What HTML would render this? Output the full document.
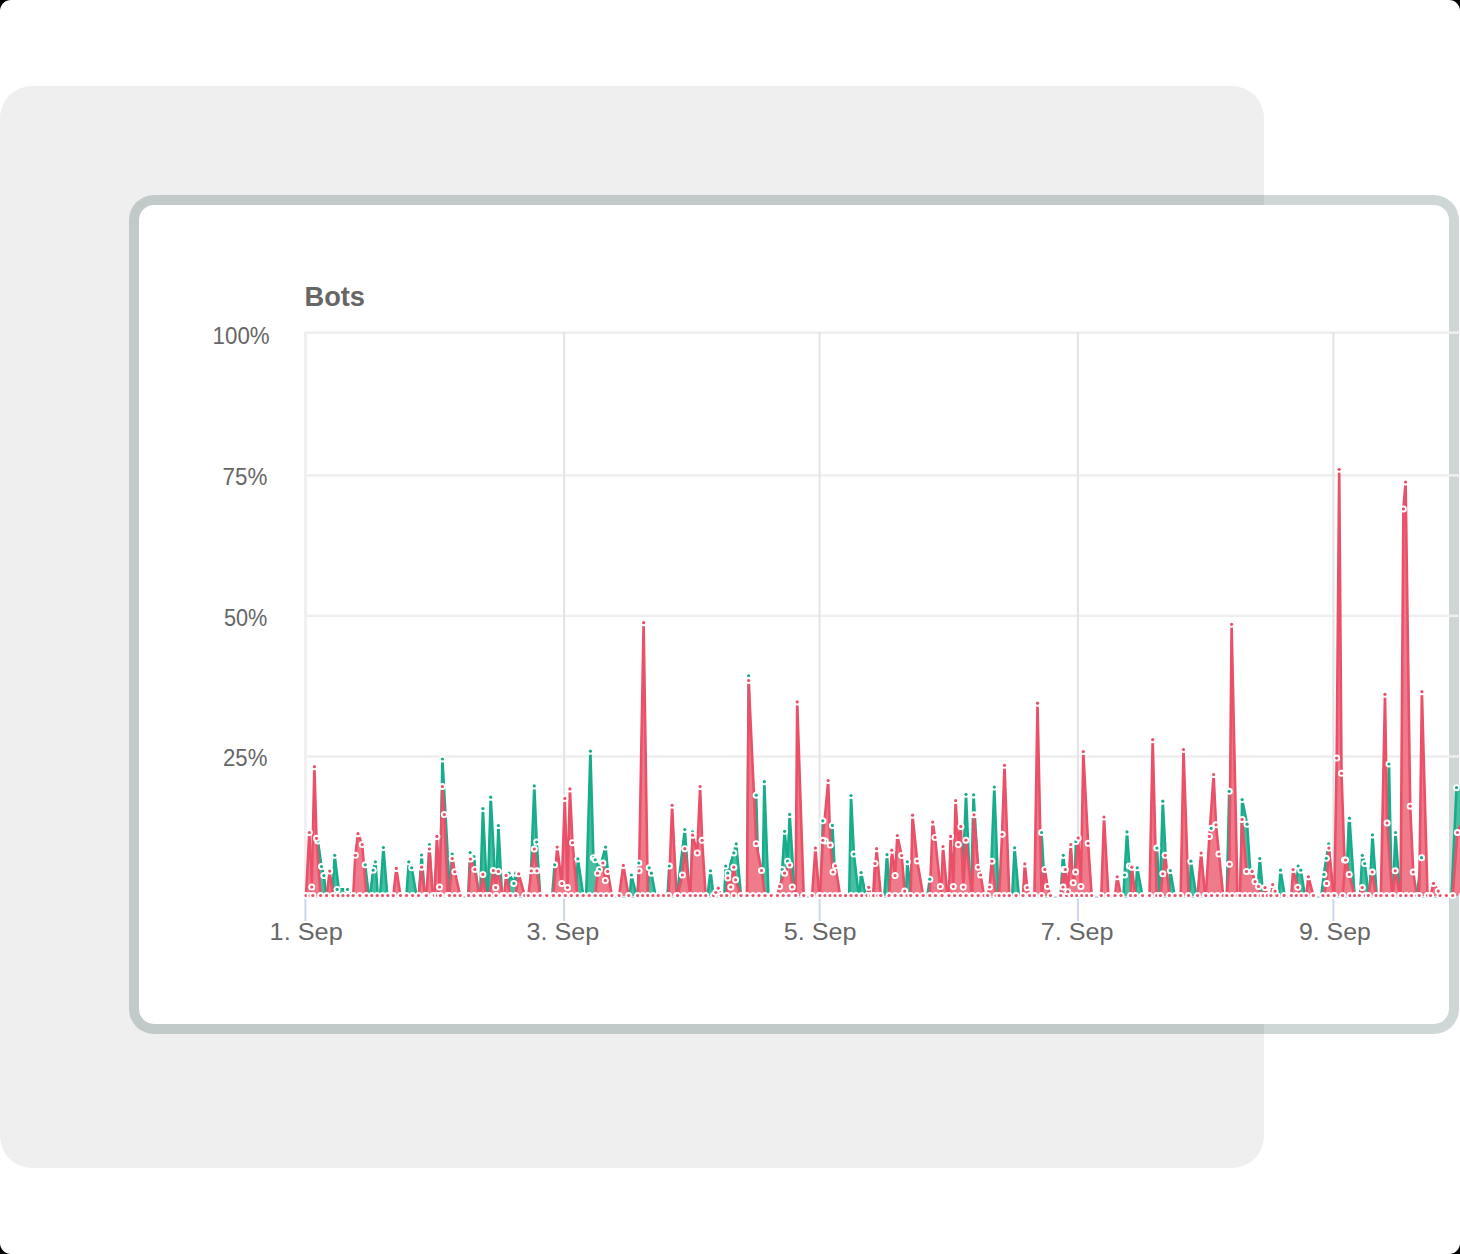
<!DOCTYPE html>
<html><head><meta charset="utf-8"><style>
html,body{margin:0;padding:0;background:#000;width:1460px;height:1254px;overflow:hidden}
.page{position:absolute;left:0;top:0;width:1460px;height:1254px;background:#fff;border-radius:11px;overflow:hidden}
.grey{position:absolute;left:0;top:86px;width:1263.5px;height:1081.5px;background:#efefef;border-radius:32px}
.card{position:absolute;left:129px;top:195px;width:1330px;height:839px;box-sizing:border-box;border:10px solid rgba(15,55,50,0.2);border-radius:25px;background:#fff;background-clip:padding-box}
.title{position:absolute;left:307px;top:281px;font:bold 27px "Liberation Sans",sans-serif;color:#666}
.yl{position:absolute;right:1191px;font:22.7px "Liberation Sans",sans-serif;color:#666;line-height:26px;white-space:nowrap}
.xl{position:absolute;top:917px;width:120px;text-align:center;font:25px "Liberation Sans",sans-serif;color:#666;line-height:28px;white-space:nowrap}
svg{position:absolute;left:0;top:0}
</style></head><body><div class="page">
<div class="grey"></div>
<div class="card"></div>

<svg width="1460" height="1254" viewBox="0 0 1460 1254"><g font-family="Liberation Sans, sans-serif" fill="#666"><text x="304.5" y="305.7" textLength="60.5" lengthAdjust="spacingAndGlyphs" font-size="27.5" font-weight="bold">Bots</text><text x="212.6" y="344.2" textLength="57.0" lengthAdjust="spacingAndGlyphs" font-size="23.5" font-weight="normal">100%</text><text x="222.6" y="484.8" textLength="44.8" lengthAdjust="spacingAndGlyphs" font-size="23.5" font-weight="normal">75%</text><text x="224.0" y="625.6" textLength="43.4" lengthAdjust="spacingAndGlyphs" font-size="23.5" font-weight="normal">50%</text><text x="223.0" y="766.0" textLength="44.4" lengthAdjust="spacingAndGlyphs" font-size="23.5" font-weight="normal">25%</text><text x="269.6" y="940.2" textLength="73.2" lengthAdjust="spacingAndGlyphs" font-size="24.5" font-weight="normal">1. Sep</text><text x="526.4" y="940.2" textLength="72.8" lengthAdjust="spacingAndGlyphs" font-size="24.5" font-weight="normal">3. Sep</text><text x="783.7" y="940.2" textLength="72.8" lengthAdjust="spacingAndGlyphs" font-size="24.5" font-weight="normal">5. Sep</text><text x="1040.7" y="940.2" textLength="72.8" lengthAdjust="spacingAndGlyphs" font-size="24.5" font-weight="normal">7. Sep</text><text x="1299.0" y="940.2" textLength="71.8" lengthAdjust="spacingAndGlyphs" font-size="24.5" font-weight="normal">9. Sep</text></g><rect x="305" y="331.35" width="1160" height="2.5" fill="#eeeeee"/><rect x="305" y="474.15" width="1160" height="2.5" fill="#eeeeee"/><rect x="305" y="614.65" width="1160" height="2.5" fill="#eeeeee"/><rect x="305" y="755.25" width="1160" height="2.5" fill="#eeeeee"/><rect x="303.9" y="332" width="3" height="560" fill="#f0f0f0"/><rect x="563.1" y="332" width="2" height="560" fill="#e3e3e3"/><rect x="818.6" y="332" width="2" height="560" fill="#e3e3e3"/><rect x="1076.9" y="332" width="2" height="560" fill="#e3e3e3"/><rect x="1332.4" y="332" width="2" height="560" fill="#e3e3e3"/><rect x="305" y="896" width="1160" height="2" fill="#ccd6eb"/><rect x="304.4" y="896" width="2" height="25" fill="#ccd6eb"/><rect x="563.1" y="896" width="2" height="25" fill="#ccd6eb"/><rect x="818.6" y="896" width="2" height="25" fill="#ccd6eb"/><rect x="1076.9" y="896" width="2" height="25" fill="#ccd6eb"/><rect x="1332.4" y="896" width="2" height="25" fill="#ccd6eb"/><path d="M316.7 895.9 L317.9 840.9 L321.5 866.6 L323.9 875.6 L326.1 895.9 L326.1 896.0 L316.7 896.0 Z" fill="#48bfa1"/><path d="M316.7 895.9 L317.9 840.9 L321.5 866.6 L323.9 875.6 L326.1 895.9" fill="none" stroke="#17ad8c" stroke-width="2.6" stroke-linejoin="round"/><path d="M332.3 895.9 L334.7 855.3 L339.5 895.9 L339.5 896.0 L332.3 896.0 Z" fill="#48bfa1"/><path d="M332.3 895.9 L334.7 855.3 L339.5 895.9" fill="none" stroke="#17ad8c" stroke-width="2.6" stroke-linejoin="round"/><path d="M335.9 895.9 L337.1 889.4 L347.5 889.4 L351.4 895.9 L351.4 896.0 L335.9 896.0 Z" fill="#48bfa1"/><path d="M335.9 895.9 L337.1 889.4 L347.5 889.4 L351.4 895.9" fill="none" stroke="#17ad8c" stroke-width="2.6" stroke-linejoin="round"/><path d="M363.4 895.9 L365.2 864.8 L368.8 895.9 L368.8 896.0 L363.4 896.0 Z" fill="#48bfa1"/><path d="M363.4 895.9 L365.2 864.8 L368.8 895.9" fill="none" stroke="#17ad8c" stroke-width="2.6" stroke-linejoin="round"/><path d="M370.0 895.9 L373.2 870.2 L375.4 861.8 L377.8 895.9 L377.8 896.0 L370.0 896.0 Z" fill="#48bfa1"/><path d="M370.0 895.9 L373.2 870.2 L375.4 861.8 L377.8 895.9" fill="none" stroke="#17ad8c" stroke-width="2.6" stroke-linejoin="round"/><path d="M380.1 895.9 L383.4 847.5 L387.3 895.9 L387.3 896.0 L380.1 896.0 Z" fill="#48bfa1"/><path d="M380.1 895.9 L383.4 847.5 L387.3 895.9" fill="none" stroke="#17ad8c" stroke-width="2.6" stroke-linejoin="round"/><path d="M406.4 895.9 L408.8 861.8 L411.7 867.8 L416.5 895.9 L416.5 896.0 L406.4 896.0 Z" fill="#48bfa1"/><path d="M406.4 895.9 L408.8 861.8 L411.7 867.8 L416.5 895.9" fill="none" stroke="#17ad8c" stroke-width="2.6" stroke-linejoin="round"/><path d="M418.9 895.9 L421.6 855.0 L424.9 895.9 L424.9 896.0 L418.9 896.0 Z" fill="#48bfa1"/><path d="M418.9 895.9 L421.6 855.0 L424.9 895.9" fill="none" stroke="#17ad8c" stroke-width="2.6" stroke-linejoin="round"/><path d="M427.3 895.9 L429.4 844.5 L432.1 895.9 L432.1 896.0 L427.3 896.0 Z" fill="#48bfa1"/><path d="M427.3 895.9 L429.4 844.5 L432.1 895.9" fill="none" stroke="#17ad8c" stroke-width="2.6" stroke-linejoin="round"/><path d="M439.9 895.9 L442.4 759.0 L450.0 895.9 L450.0 896.0 L439.9 896.0 Z" fill="#48bfa1"/><path d="M439.9 895.9 L442.4 759.0 L450.0 895.9" fill="none" stroke="#17ad8c" stroke-width="2.6" stroke-linejoin="round"/><path d="M449.4 895.9 L452.2 854.1 L457.2 895.9 L457.2 896.0 L449.4 896.0 Z" fill="#48bfa1"/><path d="M449.4 895.9 L452.2 854.1 L457.2 895.9" fill="none" stroke="#17ad8c" stroke-width="2.6" stroke-linejoin="round"/><path d="M468.2 895.9 L470.1 852.6 L473.9 856.5 L478.7 895.9 L478.7 896.0 L468.2 896.0 Z" fill="#48bfa1"/><path d="M468.2 895.9 L470.1 852.6 L473.9 856.5 L478.7 895.9" fill="none" stroke="#17ad8c" stroke-width="2.6" stroke-linejoin="round"/><path d="M480.2 895.9 L482.9 808.6 L487.1 895.9 L487.1 896.0 L480.2 896.0 Z" fill="#48bfa1"/><path d="M480.2 895.9 L482.9 808.6 L487.1 895.9" fill="none" stroke="#17ad8c" stroke-width="2.6" stroke-linejoin="round"/><path d="M487.7 895.9 L490.7 797.2 L496.1 895.9 L496.1 896.0 L487.7 896.0 Z" fill="#48bfa1"/><path d="M487.7 895.9 L490.7 797.2 L496.1 895.9" fill="none" stroke="#17ad8c" stroke-width="2.6" stroke-linejoin="round"/><path d="M496.0 895.9 L498.4 825.6 L502.0 895.9 L502.0 896.0 L496.0 896.0 Z" fill="#48bfa1"/><path d="M496.0 895.9 L498.4 825.6 L502.0 895.9" fill="none" stroke="#17ad8c" stroke-width="2.6" stroke-linejoin="round"/><path d="M507.9 895.9 L509.1 873.2 L513.9 883.4 L515.7 873.2 L518.1 895.9 L518.1 896.0 L507.9 896.0 Z" fill="#48bfa1"/><path d="M507.9 895.9 L509.1 873.2 L513.9 883.4 L515.7 873.2 L518.1 895.9" fill="none" stroke="#17ad8c" stroke-width="2.6" stroke-linejoin="round"/><path d="M530.1 895.9 L534.3 785.9 L536.7 842.1 L540.2 895.9 L540.2 896.0 L530.1 896.0 Z" fill="#48bfa1"/><path d="M530.1 895.9 L534.3 785.9 L536.7 842.1 L540.2 895.9" fill="none" stroke="#17ad8c" stroke-width="2.6" stroke-linejoin="round"/><path d="M552.2 895.9 L554.6 864.8 L557.0 895.9 L557.0 896.0 L552.2 896.0 Z" fill="#48bfa1"/><path d="M552.2 895.9 L554.6 864.8 L557.0 895.9" fill="none" stroke="#17ad8c" stroke-width="2.6" stroke-linejoin="round"/><path d="M575.5 895.9 L577.9 858.9 L583.3 895.9 L583.3 896.0 L575.5 896.0 Z" fill="#48bfa1"/><path d="M575.5 895.9 L577.9 858.9 L583.3 895.9" fill="none" stroke="#17ad8c" stroke-width="2.6" stroke-linejoin="round"/><path d="M586.2 895.9 L590.4 751.2 L593.4 857.7 L595.2 859.8 L599.4 869.6 L605.6 847.1 L610.1 895.9 L610.1 896.0 L586.2 896.0 Z" fill="#48bfa1"/><path d="M586.2 895.9 L590.4 751.2 L593.4 857.7 L595.2 859.8 L599.4 869.6 L605.6 847.1 L610.1 895.9" fill="none" stroke="#17ad8c" stroke-width="2.6" stroke-linejoin="round"/><path d="M629.9 895.9 L631.4 875.0 L636.4 895.9 L636.4 896.0 L629.9 896.0 Z" fill="#48bfa1"/><path d="M629.9 895.9 L631.4 875.0 L636.4 895.9" fill="none" stroke="#17ad8c" stroke-width="2.6" stroke-linejoin="round"/><path d="M637.6 895.9 L638.8 863.0 L642.4 895.9 L642.4 896.0 L637.6 896.0 Z" fill="#48bfa1"/><path d="M637.6 895.9 L638.8 863.0 L642.4 895.9" fill="none" stroke="#17ad8c" stroke-width="2.6" stroke-linejoin="round"/><path d="M647.2 895.9 L649.2 867.8 L651.4 873.2 L655.6 895.9 L655.6 896.0 L647.2 896.0 Z" fill="#48bfa1"/><path d="M647.2 895.9 L649.2 867.8 L651.4 873.2 L655.6 895.9" fill="none" stroke="#17ad8c" stroke-width="2.6" stroke-linejoin="round"/><path d="M667.5 895.9 L669.3 866.0 L672.3 895.9 L672.3 896.0 L667.5 896.0 Z" fill="#48bfa1"/><path d="M667.5 895.9 L669.3 866.0 L672.3 895.9" fill="none" stroke="#17ad8c" stroke-width="2.6" stroke-linejoin="round"/><path d="M677.0 895.9 L684.8 829.5 L689.6 895.9 L689.6 896.0 L677.0 896.0 Z" fill="#48bfa1"/><path d="M677.0 895.9 L684.8 829.5 L689.6 895.9" fill="none" stroke="#17ad8c" stroke-width="2.6" stroke-linejoin="round"/><path d="M690.8 895.9 L692.6 831.9 L695.6 895.9 L695.6 896.0 L690.8 896.0 Z" fill="#48bfa1"/><path d="M690.8 895.9 L692.6 831.9 L695.6 895.9" fill="none" stroke="#17ad8c" stroke-width="2.6" stroke-linejoin="round"/><path d="M707.5 895.9 L710.5 870.8 L713.5 895.9 L713.5 896.0 L707.5 896.0 Z" fill="#48bfa1"/><path d="M707.5 895.9 L710.5 870.8 L713.5 895.9" fill="none" stroke="#17ad8c" stroke-width="2.6" stroke-linejoin="round"/><path d="M724.3 895.9 L725.7 866.0 L727.8 873.2 L733.8 852.9 L736.2 843.9 L741.0 895.9 L741.0 896.0 L724.3 896.0 Z" fill="#48bfa1"/><path d="M724.3 895.9 L725.7 866.0 L727.8 873.2 L733.8 852.9 L736.2 843.9 L741.0 895.9" fill="none" stroke="#17ad8c" stroke-width="2.6" stroke-linejoin="round"/><path d="M747.2 895.9 L748.7 675.8 L750.6 895.9 L750.6 896.0 L747.2 896.0 Z" fill="#48bfa1"/><path d="M747.2 895.9 L748.7 675.8 L750.6 895.9" fill="none" stroke="#17ad8c" stroke-width="2.6" stroke-linejoin="round"/><path d="M754.2 895.9 L756.2 795.2 L758.9 895.9 L758.9 896.0 L754.2 896.0 Z" fill="#48bfa1"/><path d="M754.2 895.9 L756.2 795.2 L758.9 895.9" fill="none" stroke="#17ad8c" stroke-width="2.6" stroke-linejoin="round"/><path d="M762.5 895.9 L764.3 781.7 L768.5 895.9 L768.5 896.0 L762.5 896.0 Z" fill="#48bfa1"/><path d="M762.5 895.9 L764.3 781.7 L768.5 895.9" fill="none" stroke="#17ad8c" stroke-width="2.6" stroke-linejoin="round"/><path d="M779.8 895.9 L782.2 869.6 L784.6 831.3 L787.6 861.2 L789.7 814.4 L794.7 895.9 L794.7 896.0 L779.8 896.0 Z" fill="#48bfa1"/><path d="M779.8 895.9 L782.2 869.6 L784.6 831.3 L787.6 861.2 L789.7 814.4 L794.7 895.9" fill="none" stroke="#17ad8c" stroke-width="2.6" stroke-linejoin="round"/><path d="M821.1 895.9 L822.8 820.8 L825.2 840.9 L827.6 895.9 L827.6 896.0 L821.1 896.0 Z" fill="#48bfa1"/><path d="M821.1 895.9 L822.8 820.8 L825.2 840.9 L827.6 895.9" fill="none" stroke="#17ad8c" stroke-width="2.6" stroke-linejoin="round"/><path d="M830.0 895.9 L832.4 825.4 L836.0 895.9 L836.0 896.0 L830.0 896.0 Z" fill="#48bfa1"/><path d="M830.0 895.9 L832.4 825.4 L836.0 895.9" fill="none" stroke="#17ad8c" stroke-width="2.6" stroke-linejoin="round"/><path d="M849.2 895.9 L851.0 795.5 L853.9 854.1 L858.7 895.9 L858.7 896.0 L849.2 896.0 Z" fill="#48bfa1"/><path d="M849.2 895.9 L851.0 795.5 L853.9 854.1 L858.7 895.9" fill="none" stroke="#17ad8c" stroke-width="2.6" stroke-linejoin="round"/><path d="M859.3 895.9 L861.1 872.6 L865.9 895.9 L865.9 896.0 L859.3 896.0 Z" fill="#48bfa1"/><path d="M859.3 895.9 L861.1 872.6 L865.9 895.9" fill="none" stroke="#17ad8c" stroke-width="2.6" stroke-linejoin="round"/><path d="M884.4 895.9 L887.0 854.7 L889.7 895.9 L889.7 896.0 L884.4 896.0 Z" fill="#48bfa1"/><path d="M884.4 895.9 L887.0 854.7 L889.7 895.9" fill="none" stroke="#17ad8c" stroke-width="2.6" stroke-linejoin="round"/><path d="M905.9 895.9 L907.3 861.8 L911.3 895.9 L911.3 896.0 L905.9 896.0 Z" fill="#48bfa1"/><path d="M905.9 895.9 L907.3 861.8 L911.3 895.9" fill="none" stroke="#17ad8c" stroke-width="2.6" stroke-linejoin="round"/><path d="M927.4 895.9 L929.8 879.2 L931.0 895.9 L931.0 896.0 L927.4 896.0 Z" fill="#48bfa1"/><path d="M927.4 895.9 L929.8 879.2 L931.0 895.9" fill="none" stroke="#17ad8c" stroke-width="2.6" stroke-linejoin="round"/><path d="M962.0 895.9 L966.0 794.3 L970.4 895.9 L970.4 896.0 L962.0 896.0 Z" fill="#48bfa1"/><path d="M962.0 895.9 L966.0 794.3 L970.4 895.9" fill="none" stroke="#17ad8c" stroke-width="2.6" stroke-linejoin="round"/><path d="M971.0 895.9 L973.6 794.9 L979.4 895.9 L979.4 896.0 L971.0 896.0 Z" fill="#48bfa1"/><path d="M971.0 895.9 L973.6 794.9 L979.4 895.9" fill="none" stroke="#17ad8c" stroke-width="2.6" stroke-linejoin="round"/><path d="M990.1 895.9 L994.3 787.1 L998.5 895.9 L998.5 896.0 L990.1 896.0 Z" fill="#48bfa1"/><path d="M990.1 895.9 L994.3 787.1 L998.5 895.9" fill="none" stroke="#17ad8c" stroke-width="2.6" stroke-linejoin="round"/><path d="M1012.2 895.9 L1014.6 847.8 L1018.8 895.9 L1018.8 896.0 L1012.2 896.0 Z" fill="#48bfa1"/><path d="M1012.2 895.9 L1014.6 847.8 L1018.8 895.9" fill="none" stroke="#17ad8c" stroke-width="2.6" stroke-linejoin="round"/><path d="M1036.8 895.9 L1041.6 832.5 L1045.1 895.9 L1045.1 896.0 L1036.8 896.0 Z" fill="#48bfa1"/><path d="M1036.8 895.9 L1041.6 832.5 L1045.1 895.9" fill="none" stroke="#17ad8c" stroke-width="2.6" stroke-linejoin="round"/><path d="M1060.7 895.9 L1063.1 855.3 L1066.7 895.9 L1066.7 896.0 L1060.7 896.0 Z" fill="#48bfa1"/><path d="M1060.7 895.9 L1063.1 855.3 L1066.7 895.9" fill="none" stroke="#17ad8c" stroke-width="2.6" stroke-linejoin="round"/><path d="M1061.2 895.9 L1063.3 855.3 L1067.2 895.9 L1067.2 896.0 L1061.2 896.0 Z" fill="#48bfa1"/><path d="M1061.2 895.9 L1063.3 855.3 L1067.2 895.9" fill="none" stroke="#17ad8c" stroke-width="2.6" stroke-linejoin="round"/><path d="M1074.4 895.9 L1075.9 841.5 L1079.1 895.9 L1079.1 896.0 L1074.4 896.0 Z" fill="#48bfa1"/><path d="M1074.4 895.9 L1075.9 841.5 L1079.1 895.9" fill="none" stroke="#17ad8c" stroke-width="2.6" stroke-linejoin="round"/><path d="M1123.4 895.9 L1124.6 875.0 L1127.0 831.9 L1129.4 866.0 L1131.8 895.9 L1131.8 896.0 L1123.4 896.0 Z" fill="#48bfa1"/><path d="M1123.4 895.9 L1124.6 875.0 L1127.0 831.9 L1129.4 866.0 L1131.8 895.9" fill="none" stroke="#17ad8c" stroke-width="2.6" stroke-linejoin="round"/><path d="M1135.4 895.9 L1137.2 867.8 L1142.5 895.9 L1142.5 896.0 L1135.4 896.0 Z" fill="#48bfa1"/><path d="M1135.4 895.9 L1137.2 867.8 L1142.5 895.9" fill="none" stroke="#17ad8c" stroke-width="2.6" stroke-linejoin="round"/><path d="M1154.5 895.9 L1156.9 848.1 L1160.0 895.9 L1160.0 896.0 L1154.5 896.0 Z" fill="#48bfa1"/><path d="M1154.5 895.9 L1156.9 848.1 L1160.0 895.9" fill="none" stroke="#17ad8c" stroke-width="2.6" stroke-linejoin="round"/><path d="M1159.8 895.9 L1162.8 801.2 L1167.6 895.9 L1167.6 896.0 L1159.8 896.0 Z" fill="#48bfa1"/><path d="M1159.8 895.9 L1162.8 801.2 L1167.6 895.9" fill="none" stroke="#17ad8c" stroke-width="2.6" stroke-linejoin="round"/><path d="M1168.8 895.9 L1170.3 870.6 L1174.7 895.9 L1174.7 896.0 L1168.8 896.0 Z" fill="#48bfa1"/><path d="M1168.8 895.9 L1170.3 870.6 L1174.7 895.9" fill="none" stroke="#17ad8c" stroke-width="2.6" stroke-linejoin="round"/><path d="M1189.7 895.9 L1190.9 861.2 L1196.3 895.9 L1196.3 896.0 L1189.7 896.0 Z" fill="#48bfa1"/><path d="M1189.7 895.9 L1190.9 861.2 L1196.3 895.9" fill="none" stroke="#17ad8c" stroke-width="2.6" stroke-linejoin="round"/><path d="M1208.8 895.9 L1211.2 828.3 L1214.8 895.9 L1214.8 896.0 L1208.8 896.0 Z" fill="#48bfa1"/><path d="M1208.8 895.9 L1211.2 828.3 L1214.8 895.9" fill="none" stroke="#17ad8c" stroke-width="2.6" stroke-linejoin="round"/><path d="M1226.8 895.9 L1229.2 791.3 L1232.8 895.9 L1232.8 896.0 L1226.8 896.0 Z" fill="#48bfa1"/><path d="M1226.8 895.9 L1229.2 791.3 L1232.8 895.9" fill="none" stroke="#17ad8c" stroke-width="2.6" stroke-linejoin="round"/><path d="M1240.5 895.9 L1242.1 799.6 L1247.1 824.2 L1251.9 895.9 L1251.9 896.0 L1240.5 896.0 Z" fill="#48bfa1"/><path d="M1240.5 895.9 L1242.1 799.6 L1247.1 824.2 L1251.9 895.9" fill="none" stroke="#17ad8c" stroke-width="2.6" stroke-linejoin="round"/><path d="M1257.2 895.9 L1259.8 858.6 L1263.2 895.9 L1263.2 896.0 L1257.2 896.0 Z" fill="#48bfa1"/><path d="M1257.2 895.9 L1259.8 858.6 L1263.2 895.9" fill="none" stroke="#17ad8c" stroke-width="2.6" stroke-linejoin="round"/><path d="M1278.7 895.9 L1280.5 870.2 L1284.7 895.9 L1284.7 896.0 L1278.7 896.0 Z" fill="#48bfa1"/><path d="M1278.7 895.9 L1280.5 870.2 L1284.7 895.9" fill="none" stroke="#17ad8c" stroke-width="2.6" stroke-linejoin="round"/><path d="M1295.5 895.9 L1298.1 866.0 L1300.8 870.2 L1305.0 895.9 L1305.0 896.0 L1295.5 896.0 Z" fill="#48bfa1"/><path d="M1295.5 895.9 L1298.1 866.0 L1300.8 870.2 L1305.0 895.9" fill="none" stroke="#17ad8c" stroke-width="2.6" stroke-linejoin="round"/><path d="M1321.2 895.9 L1323.9 874.4 L1326.3 858.3 L1328.7 843.9 L1332.5 895.9 L1332.5 896.0 L1321.2 896.0 Z" fill="#48bfa1"/><path d="M1321.2 895.9 L1323.9 874.4 L1326.3 858.3 L1328.7 843.9 L1332.5 895.9" fill="none" stroke="#17ad8c" stroke-width="2.6" stroke-linejoin="round"/><path d="M1345.7 895.9 L1349.0 818.2 L1351.7 895.9 L1351.7 896.0 L1345.7 896.0 Z" fill="#48bfa1"/><path d="M1345.7 895.9 L1349.0 818.2 L1351.7 895.9" fill="none" stroke="#17ad8c" stroke-width="2.6" stroke-linejoin="round"/><path d="M1346.8 895.9 L1349.5 818.2 L1354.6 895.9 L1354.6 896.0 L1346.8 896.0 Z" fill="#48bfa1"/><path d="M1346.8 895.9 L1349.5 818.2 L1354.6 895.9" fill="none" stroke="#17ad8c" stroke-width="2.6" stroke-linejoin="round"/><path d="M1360.0 895.9 L1362.3 855.3 L1364.7 863.6 L1368.9 895.9 L1368.9 896.0 L1360.0 896.0 Z" fill="#48bfa1"/><path d="M1360.0 895.9 L1362.3 855.3 L1364.7 863.6 L1368.9 895.9" fill="none" stroke="#17ad8c" stroke-width="2.6" stroke-linejoin="round"/><path d="M1369.5 895.9 L1372.5 834.9 L1376.7 895.9 L1376.7 896.0 L1369.5 896.0 Z" fill="#48bfa1"/><path d="M1369.5 895.9 L1372.5 834.9 L1376.7 895.9" fill="none" stroke="#17ad8c" stroke-width="2.6" stroke-linejoin="round"/><path d="M1386.3 895.9 L1389.0 764.0 L1391.7 895.9 L1391.7 896.0 L1386.3 896.0 Z" fill="#48bfa1"/><path d="M1386.3 895.9 L1389.0 764.0 L1391.7 895.9" fill="none" stroke="#17ad8c" stroke-width="2.6" stroke-linejoin="round"/><path d="M1392.8 895.9 L1395.5 832.5 L1400.0 895.9 L1400.0 896.0 L1392.8 896.0 Z" fill="#48bfa1"/><path d="M1392.8 895.9 L1395.5 832.5 L1400.0 895.9" fill="none" stroke="#17ad8c" stroke-width="2.6" stroke-linejoin="round"/><path d="M1416.8 895.9 L1421.6 857.7 L1426.3 895.9 L1426.3 896.0 L1416.8 896.0 Z" fill="#48bfa1"/><path d="M1416.8 895.9 L1421.6 857.7 L1426.3 895.9" fill="none" stroke="#17ad8c" stroke-width="2.6" stroke-linejoin="round"/><path d="M1451.5 895.9 L1456.5 787.7 L1462.2 789.5 L1462.2 896.0 L1451.5 896.0 Z" fill="#48bfa1"/><path d="M1451.5 895.9 L1456.5 787.7 L1462.2 789.5" fill="none" stroke="#17ad8c" stroke-width="2.6" stroke-linejoin="round"/><path d="M306.0 895.9 L309.3 832.5 L312.9 895.9 L312.9 896.0 L306.0 896.0 Z" fill="#ef7a8a"/><path d="M306.0 895.9 L309.3 832.5 L312.9 895.9" fill="none" stroke="#ea5068" stroke-width="2.6" stroke-linejoin="round"/><path d="M310.2 895.9 L311.7 887.0 L314.4 766.7 L316.5 838.3 L320.6 895.9 L320.6 896.0 L310.2 896.0 Z" fill="#ef7a8a"/><path d="M310.2 895.9 L311.7 887.0 L314.4 766.7 L316.5 838.3 L320.6 895.9" fill="none" stroke="#ea5068" stroke-width="2.6" stroke-linejoin="round"/><path d="M326.6 895.9 L329.7 871.1 L332.9 895.9 L332.9 896.0 L326.6 896.0 Z" fill="#ef7a8a"/><path d="M326.6 895.9 L329.7 871.1 L332.9 895.9" fill="none" stroke="#ea5068" stroke-width="2.6" stroke-linejoin="round"/><path d="M353.2 895.9 L355.3 855.3 L358.0 833.7 L362.2 844.5 L366.4 895.9 L366.4 896.0 L353.2 896.0 Z" fill="#ef7a8a"/><path d="M353.2 895.9 L355.3 855.3 L358.0 833.7 L362.2 844.5 L366.4 895.9" fill="none" stroke="#ea5068" stroke-width="2.6" stroke-linejoin="round"/><path d="M393.3 895.9 L396.3 868.4 L400.5 895.9 L400.5 896.0 L393.3 896.0 Z" fill="#ef7a8a"/><path d="M393.3 895.9 L396.3 868.4 L400.5 895.9" fill="none" stroke="#ea5068" stroke-width="2.6" stroke-linejoin="round"/><path d="M418.6 895.9 L421.6 867.2 L424.9 895.9 L424.9 896.0 L418.6 896.0 Z" fill="#ef7a8a"/><path d="M418.6 895.9 L421.6 867.2 L424.9 895.9" fill="none" stroke="#ea5068" stroke-width="2.6" stroke-linejoin="round"/><path d="M426.3 895.9 L429.4 849.0 L433.0 895.9 L433.0 896.0 L426.3 896.0 Z" fill="#ef7a8a"/><path d="M426.3 895.9 L429.4 849.0 L433.0 895.9" fill="none" stroke="#ea5068" stroke-width="2.6" stroke-linejoin="round"/><path d="M434.5 895.9 L436.9 836.4 L440.5 895.9 L440.5 896.0 L434.5 896.0 Z" fill="#ef7a8a"/><path d="M434.5 895.9 L436.9 836.4 L440.5 895.9" fill="none" stroke="#ea5068" stroke-width="2.6" stroke-linejoin="round"/><path d="M437.5 895.9 L439.5 887.0 L442.4 786.5 L444.3 814.6 L447.6 895.9 L447.6 896.0 L437.5 896.0 Z" fill="#ef7a8a"/><path d="M437.5 895.9 L439.5 887.0 L442.4 786.5 L444.3 814.6 L447.6 895.9" fill="none" stroke="#ea5068" stroke-width="2.6" stroke-linejoin="round"/><path d="M449.4 895.9 L452.2 858.6 L454.8 871.8 L460.2 895.9 L460.2 896.0 L449.4 896.0 Z" fill="#ef7a8a"/><path d="M449.4 895.9 L452.2 858.6 L454.8 871.8 L460.2 895.9" fill="none" stroke="#ea5068" stroke-width="2.6" stroke-linejoin="round"/><path d="M468.6 895.9 L470.4 859.1 L474.9 869.4 L479.3 895.9 L479.3 896.0 L468.6 896.0 Z" fill="#ef7a8a"/><path d="M468.6 895.9 L470.4 859.1 L474.9 869.4 L479.3 895.9" fill="none" stroke="#ea5068" stroke-width="2.6" stroke-linejoin="round"/><path d="M480.5 895.9 L482.9 874.4 L485.9 895.9 L485.9 896.0 L480.5 896.0 Z" fill="#ef7a8a"/><path d="M480.5 895.9 L482.9 874.4 L485.9 895.9" fill="none" stroke="#ea5068" stroke-width="2.6" stroke-linejoin="round"/><path d="M489.4 895.9 L493.3 870.6 L495.7 887.6 L498.4 871.4 L502.6 895.9 L502.6 896.0 L489.4 896.0 Z" fill="#ef7a8a"/><path d="M489.4 895.9 L493.3 870.6 L495.7 887.6 L498.4 871.4 L502.6 895.9" fill="none" stroke="#ea5068" stroke-width="2.6" stroke-linejoin="round"/><path d="M504.1 895.9 L506.1 875.4 L510.3 895.9 L510.3 896.0 L504.1 896.0 Z" fill="#ef7a8a"/><path d="M504.1 895.9 L506.1 875.4 L510.3 895.9" fill="none" stroke="#ea5068" stroke-width="2.6" stroke-linejoin="round"/><path d="M515.7 895.9 L518.7 873.8 L524.7 895.9 L524.7 896.0 L515.7 896.0 Z" fill="#ef7a8a"/><path d="M515.7 895.9 L518.7 873.8 L524.7 895.9" fill="none" stroke="#ea5068" stroke-width="2.6" stroke-linejoin="round"/><path d="M528.3 895.9 L531.3 870.8 L534.3 849.0 L536.9 870.8 L540.2 895.9 L540.2 896.0 L528.3 896.0 Z" fill="#ef7a8a"/><path d="M528.3 895.9 L531.3 870.8 L534.3 849.0 L536.9 870.8 L540.2 895.9" fill="none" stroke="#ea5068" stroke-width="2.6" stroke-linejoin="round"/><path d="M553.4 895.9 L557.2 847.1 L561.8 883.4 L564.8 798.4 L567.5 887.6 L569.9 788.9 L572.5 842.7 L577.3 895.9 L577.3 896.0 L553.4 896.0 Z" fill="#ef7a8a"/><path d="M553.4 895.9 L557.2 847.1 L561.8 883.4 L564.8 798.4 L567.5 887.6 L569.9 788.9 L572.5 842.7 L577.3 895.9" fill="none" stroke="#ea5068" stroke-width="2.6" stroke-linejoin="round"/><path d="M595.2 895.9 L597.6 873.2 L602.9 863.0 L605.3 880.4 L607.7 871.4 L611.9 895.9 L611.9 896.0 L595.2 896.0 Z" fill="#ef7a8a"/><path d="M595.2 895.9 L597.6 873.2 L602.9 863.0 L605.3 880.4 L607.7 871.4 L611.9 895.9" fill="none" stroke="#ea5068" stroke-width="2.6" stroke-linejoin="round"/><path d="M619.1 895.9 L623.3 865.4 L628.7 895.9 L628.7 896.0 L619.1 896.0 Z" fill="#ef7a8a"/><path d="M619.1 895.9 L623.3 865.4 L628.7 895.9" fill="none" stroke="#ea5068" stroke-width="2.6" stroke-linejoin="round"/><path d="M637.6 895.9 L639.1 870.8 L643.6 622.7 L647.8 895.9 L647.8 896.0 L637.6 896.0 Z" fill="#ef7a8a"/><path d="M637.6 895.9 L639.1 870.8 L643.6 622.7 L647.8 895.9" fill="none" stroke="#ea5068" stroke-width="2.6" stroke-linejoin="round"/><path d="M668.7 895.9 L672.1 805.3 L676.5 895.9 L676.5 896.0 L668.7 896.0 Z" fill="#ef7a8a"/><path d="M668.7 895.9 L672.1 805.3 L676.5 895.9" fill="none" stroke="#ea5068" stroke-width="2.6" stroke-linejoin="round"/><path d="M677.6 895.9 L682.4 875.0 L684.8 848.7 L690.2 895.9 L690.2 896.0 L677.6 896.0 Z" fill="#ef7a8a"/><path d="M677.6 895.9 L682.4 875.0 L684.8 848.7 L690.2 895.9" fill="none" stroke="#ea5068" stroke-width="2.6" stroke-linejoin="round"/><path d="M690.2 895.9 L692.6 835.2 L697.3 852.9 L700.1 786.5 L702.1 840.3 L705.7 895.9 L705.7 896.0 L690.2 896.0 Z" fill="#ef7a8a"/><path d="M690.2 895.9 L692.6 835.2 L697.3 852.9 L700.1 786.5 L702.1 840.3 L705.7 895.9" fill="none" stroke="#ea5068" stroke-width="2.6" stroke-linejoin="round"/><path d="M713.5 895.9 L715.9 892.3 L718.3 888.2 L721.3 895.9 L721.3 896.0 L713.5 896.0 Z" fill="#ef7a8a"/><path d="M713.5 895.9 L715.9 892.3 L718.3 888.2 L721.3 895.9" fill="none" stroke="#ea5068" stroke-width="2.6" stroke-linejoin="round"/><path d="M726.7 895.9 L727.8 878.0 L730.8 887.0 L733.8 867.2 L735.6 879.8 L741.0 895.9 L741.0 896.0 L726.7 896.0 Z" fill="#ef7a8a"/><path d="M726.7 895.9 L727.8 878.0 L730.8 887.0 L733.8 867.2 L735.6 879.8 L741.0 895.9" fill="none" stroke="#ea5068" stroke-width="2.6" stroke-linejoin="round"/><path d="M747.0 895.9 L748.7 680.5 L756.2 843.7 L761.5 870.5 L765.0 895.9 L765.0 896.0 L747.0 896.0 Z" fill="#ef7a8a"/><path d="M747.0 895.9 L748.7 680.5 L756.2 843.7 L761.5 870.5 L765.0 895.9" fill="none" stroke="#ea5068" stroke-width="2.6" stroke-linejoin="round"/><path d="M777.4 895.9 L779.5 886.4 L784.6 873.2 L789.7 865.1 L792.3 887.0 L794.7 895.9 L794.7 896.0 L777.4 896.0 Z" fill="#ef7a8a"/><path d="M777.4 895.9 L779.5 886.4 L784.6 873.2 L789.7 865.1 L792.3 887.0 L794.7 895.9" fill="none" stroke="#ea5068" stroke-width="2.6" stroke-linejoin="round"/><path d="M795.6 895.9 L797.2 701.9 L803.7 895.9 L803.7 896.0 L795.6 896.0 Z" fill="#ef7a8a"/><path d="M795.6 895.9 L797.2 701.9 L803.7 895.9" fill="none" stroke="#ea5068" stroke-width="2.6" stroke-linejoin="round"/><path d="M812.1 895.9 L815.4 848.1 L819.3 895.9 L819.3 896.0 L812.1 896.0 Z" fill="#ef7a8a"/><path d="M812.1 895.9 L815.4 848.1 L819.3 895.9" fill="none" stroke="#ea5068" stroke-width="2.6" stroke-linejoin="round"/><path d="M819.9 895.9 L822.8 840.3 L828.2 780.5 L830.3 845.1 L833.0 872.0 L835.4 865.8 L840.2 895.9 L840.2 896.0 L819.9 896.0 Z" fill="#ef7a8a"/><path d="M819.9 895.9 L822.8 840.3 L828.2 780.5 L830.3 845.1 L833.0 872.0 L835.4 865.8 L840.2 895.9" fill="none" stroke="#ea5068" stroke-width="2.6" stroke-linejoin="round"/><path d="M867.1 895.9 L868.7 887.3 L870.7 895.9 L870.7 896.0 L867.1 896.0 Z" fill="#ef7a8a"/><path d="M867.1 895.9 L868.7 887.3 L870.7 895.9" fill="none" stroke="#ea5068" stroke-width="2.6" stroke-linejoin="round"/><path d="M873.1 895.9 L875.0 863.6 L877.9 895.9 L877.9 896.0 L873.1 896.0 Z" fill="#ef7a8a"/><path d="M873.1 895.9 L875.0 863.6 L877.9 895.9" fill="none" stroke="#ea5068" stroke-width="2.6" stroke-linejoin="round"/><path d="M873.6 895.9 L876.6 848.7 L880.8 895.9 L880.8 896.0 L873.6 896.0 Z" fill="#ef7a8a"/><path d="M873.6 895.9 L876.6 848.7 L880.8 895.9" fill="none" stroke="#ea5068" stroke-width="2.6" stroke-linejoin="round"/><path d="M889.1 895.9 L891.8 850.2 L895.1 875.6 L897.3 835.5 L901.7 855.5 L904.7 891.1 L907.1 895.9 L907.1 896.0 L889.1 896.0 Z" fill="#ef7a8a"/><path d="M889.1 895.9 L891.8 850.2 L895.1 875.6 L897.3 835.5 L901.7 855.5 L904.7 891.1 L907.1 895.9" fill="none" stroke="#ea5068" stroke-width="2.6" stroke-linejoin="round"/><path d="M910.7 895.9 L912.5 815.2 L917.2 861.0 L923.2 895.9 L923.2 896.0 L910.7 896.0 Z" fill="#ef7a8a"/><path d="M910.7 895.9 L912.5 815.2 L917.2 861.0 L923.2 895.9" fill="none" stroke="#ea5068" stroke-width="2.6" stroke-linejoin="round"/><path d="M929.8 895.9 L932.7 822.1 L935.0 837.4 L940.3 886.6 L942.0 895.9 L942.0 896.0 L929.8 896.0 Z" fill="#ef7a8a"/><path d="M929.8 895.9 L932.7 822.1 L935.0 837.4 L940.3 886.6 L942.0 895.9" fill="none" stroke="#ea5068" stroke-width="2.6" stroke-linejoin="round"/><path d="M941.1 895.9 L943.0 846.5 L947.5 895.9 L947.5 896.0 L941.1 896.0 Z" fill="#ef7a8a"/><path d="M941.1 895.9 L943.0 846.5 L947.5 895.9" fill="none" stroke="#ea5068" stroke-width="2.6" stroke-linejoin="round"/><path d="M948.9 895.9 L950.6 836.4 L953.3 886.6 L955.6 800.6 L958.3 844.6 L960.9 826.4 L963.3 887.1 L965.9 840.2 L971.9 895.9 L971.9 896.0 L948.9 896.0 Z" fill="#ef7a8a"/><path d="M948.9 895.9 L950.6 836.4 L953.3 886.6 L955.6 800.6 L958.3 844.6 L960.9 826.4 L963.3 887.1 L965.9 840.2 L971.9 895.9" fill="none" stroke="#ea5068" stroke-width="2.6" stroke-linejoin="round"/><path d="M972.2 895.9 L974.0 814.8 L978.2 867.2 L980.6 875.0 L984.1 895.9 L984.1 896.0 L972.2 896.0 Z" fill="#ef7a8a"/><path d="M972.2 895.9 L974.0 814.8 L978.2 867.2 L980.6 875.0 L984.1 895.9" fill="none" stroke="#ea5068" stroke-width="2.6" stroke-linejoin="round"/><path d="M987.7 895.9 L989.5 887.0 L991.9 861.2 L996.1 895.9 L996.1 896.0 L987.7 896.0 Z" fill="#ef7a8a"/><path d="M987.7 895.9 L989.5 887.0 L991.9 861.2 L996.1 895.9" fill="none" stroke="#ea5068" stroke-width="2.6" stroke-linejoin="round"/><path d="M999.1 895.9 L1002.1 834.3 L1004.5 765.3 L1009.3 895.9 L1009.3 896.0 L999.1 896.0 Z" fill="#ef7a8a"/><path d="M999.1 895.9 L1002.1 834.3 L1004.5 765.3 L1009.3 895.9" fill="none" stroke="#ea5068" stroke-width="2.6" stroke-linejoin="round"/><path d="M1023.0 895.9 L1024.8 863.9 L1027.2 887.6 L1029.6 895.9 L1029.6 896.0 L1023.0 896.0 Z" fill="#ef7a8a"/><path d="M1023.0 895.9 L1024.8 863.9 L1027.2 887.6 L1029.6 895.9" fill="none" stroke="#ea5068" stroke-width="2.6" stroke-linejoin="round"/><path d="M1034.4 895.9 L1037.5 703.2 L1041.6 895.9 L1041.6 896.0 L1034.4 896.0 Z" fill="#ef7a8a"/><path d="M1034.4 895.9 L1037.5 703.2 L1041.6 895.9" fill="none" stroke="#ea5068" stroke-width="2.6" stroke-linejoin="round"/><path d="M1041.6 895.9 L1044.9 869.4 L1047.5 886.4 L1050.5 895.9 L1050.5 896.0 L1041.6 896.0 Z" fill="#ef7a8a"/><path d="M1041.6 895.9 L1044.9 869.4 L1047.5 886.4 L1050.5 895.9" fill="none" stroke="#ea5068" stroke-width="2.6" stroke-linejoin="round"/><path d="M1060.7 895.9 L1063.7 869.6 L1066.7 895.9 L1066.7 896.0 L1060.7 896.0 Z" fill="#ef7a8a"/><path d="M1060.7 895.9 L1063.7 869.6 L1066.7 895.9" fill="none" stroke="#ea5068" stroke-width="2.6" stroke-linejoin="round"/><path d="M1060.0 895.9 L1063.0 887.0 L1065.4 869.6 L1067.8 891.7 L1070.8 844.5 L1073.2 882.8 L1075.6 872.0 L1078.2 837.9 L1080.9 886.4 L1083.3 751.6 L1088.1 843.3 L1091.7 895.9 L1091.7 896.0 L1060.0 896.0 Z" fill="#ef7a8a"/><path d="M1060.0 895.9 L1063.0 887.0 L1065.4 869.6 L1067.8 891.7 L1070.8 844.5 L1073.2 882.8 L1075.6 872.0 L1078.2 837.9 L1080.9 886.4 L1083.3 751.6 L1088.1 843.3 L1091.7 895.9" fill="none" stroke="#ea5068" stroke-width="2.6" stroke-linejoin="round"/><path d="M1101.3 895.9 L1104.0 817.0 L1108.4 895.9 L1108.4 896.0 L1101.3 896.0 Z" fill="#ef7a8a"/><path d="M1101.3 895.9 L1104.0 817.0 L1108.4 895.9" fill="none" stroke="#ea5068" stroke-width="2.6" stroke-linejoin="round"/><path d="M1115.0 895.9 L1117.2 876.8 L1121.0 895.9 L1121.0 896.0 L1115.0 896.0 Z" fill="#ef7a8a"/><path d="M1115.0 895.9 L1117.2 876.8 L1121.0 895.9" fill="none" stroke="#ea5068" stroke-width="2.6" stroke-linejoin="round"/><path d="M1130.6 895.9 L1131.8 867.2 L1135.4 895.9 L1135.4 896.0 L1130.6 896.0 Z" fill="#ef7a8a"/><path d="M1130.6 895.9 L1131.8 867.2 L1135.4 895.9" fill="none" stroke="#ea5068" stroke-width="2.6" stroke-linejoin="round"/><path d="M1149.5 895.9 L1152.7 739.7 L1156.7 895.9 L1156.7 896.0 L1149.5 896.0 Z" fill="#ef7a8a"/><path d="M1149.5 895.9 L1152.7 739.7 L1156.7 895.9" fill="none" stroke="#ea5068" stroke-width="2.6" stroke-linejoin="round"/><path d="M1160.4 895.9 L1162.8 873.8 L1165.2 855.3 L1169.4 895.9 L1169.4 896.0 L1160.4 896.0 Z" fill="#ef7a8a"/><path d="M1160.4 895.9 L1162.8 873.8 L1165.2 855.3 L1169.4 895.9" fill="none" stroke="#ea5068" stroke-width="2.6" stroke-linejoin="round"/><path d="M1180.7 895.9 L1183.5 749.6 L1188.5 895.9 L1188.5 896.0 L1180.7 896.0 Z" fill="#ef7a8a"/><path d="M1180.7 895.9 L1183.5 749.6 L1188.5 895.9" fill="none" stroke="#ea5068" stroke-width="2.6" stroke-linejoin="round"/><path d="M1197.5 895.9 L1201.1 853.1 L1205.2 895.9 L1205.2 896.0 L1197.5 896.0 Z" fill="#ef7a8a"/><path d="M1197.5 895.9 L1201.1 853.1 L1205.2 895.9" fill="none" stroke="#ea5068" stroke-width="2.6" stroke-linejoin="round"/><path d="M1205.8 895.9 L1209.4 836.4 L1213.6 774.5 L1216.0 824.8 L1219.0 854.1 L1223.2 895.9 L1223.2 896.0 L1205.8 896.0 Z" fill="#ef7a8a"/><path d="M1205.8 895.9 L1209.4 836.4 L1213.6 774.5 L1216.0 824.8 L1219.0 854.1 L1223.2 895.9" fill="none" stroke="#ea5068" stroke-width="2.6" stroke-linejoin="round"/><path d="M1226.8 895.9 L1229.4 864.2 L1231.6 624.3 L1237.5 895.9 L1237.5 896.0 L1226.8 896.0 Z" fill="#ef7a8a"/><path d="M1226.8 895.9 L1229.4 864.2 L1231.6 624.3 L1237.5 895.9" fill="none" stroke="#ea5068" stroke-width="2.6" stroke-linejoin="round"/><path d="M1239.9 895.9 L1242.1 819.4 L1246.5 871.4 L1252.1 871.4 L1255.0 881.6 L1258.5 886.4 L1260.3 895.9 L1260.3 896.0 L1239.9 896.0 Z" fill="#ef7a8a"/><path d="M1239.9 895.9 L1242.1 819.4 L1246.5 871.4 L1252.1 871.4 L1255.0 881.6 L1258.5 886.4 L1260.3 895.9" fill="none" stroke="#ea5068" stroke-width="2.6" stroke-linejoin="round"/><path d="M1263.2 895.9 L1265.0 887.6 L1267.3 895.9 L1267.3 896.0 L1263.2 896.0 Z" fill="#ef7a8a"/><path d="M1263.2 895.9 L1265.0 887.6 L1267.3 895.9" fill="none" stroke="#ea5068" stroke-width="2.6" stroke-linejoin="round"/><path d="M1270.9 895.9 L1272.7 884.6 L1275.1 891.1 L1276.9 895.9 L1276.9 896.0 L1270.9 896.0 Z" fill="#ef7a8a"/><path d="M1270.9 895.9 L1272.7 884.6 L1275.1 891.1 L1276.9 895.9" fill="none" stroke="#ea5068" stroke-width="2.6" stroke-linejoin="round"/><path d="M1291.3 895.9 L1293.1 869.6 L1297.8 887.3 L1301.4 895.9 L1301.4 896.0 L1291.3 896.0 Z" fill="#ef7a8a"/><path d="M1291.3 895.9 L1293.1 869.6 L1297.8 887.3 L1301.4 895.9" fill="none" stroke="#ea5068" stroke-width="2.6" stroke-linejoin="round"/><path d="M1306.2 895.9 L1308.4 876.8 L1313.4 895.9 L1313.4 896.0 L1306.2 896.0 Z" fill="#ef7a8a"/><path d="M1306.2 895.9 L1308.4 876.8 L1313.4 895.9" fill="none" stroke="#ea5068" stroke-width="2.6" stroke-linejoin="round"/><path d="M1323.0 895.9 L1326.6 883.4 L1328.9 848.1 L1333.7 895.9 L1333.7 896.0 L1323.0 896.0 Z" fill="#ef7a8a"/><path d="M1323.0 895.9 L1326.6 883.4 L1328.9 848.1 L1333.7 895.9" fill="none" stroke="#ea5068" stroke-width="2.6" stroke-linejoin="round"/><path d="M1334.3 895.9 L1336.7 758.1 L1339.2 469.3 L1341.5 773.3 L1344.5 860.0 L1350.0 895.9 L1350.0 896.0 L1334.3 896.0 Z" fill="#ef7a8a"/><path d="M1334.3 895.9 L1336.7 758.1 L1339.2 469.3 L1341.5 773.3 L1344.5 860.0 L1350.0 895.9" fill="none" stroke="#ea5068" stroke-width="2.6" stroke-linejoin="round"/><path d="M1342.6 895.9 L1345.6 860.0 L1349.2 874.4 L1354.6 895.9 L1354.6 896.0 L1342.6 896.0 Z" fill="#ef7a8a"/><path d="M1342.6 895.9 L1345.6 860.0 L1349.2 874.4 L1354.6 895.9" fill="none" stroke="#ea5068" stroke-width="2.6" stroke-linejoin="round"/><path d="M1359.4 895.9 L1362.3 887.6 L1365.3 895.9 L1365.3 896.0 L1359.4 896.0 Z" fill="#ef7a8a"/><path d="M1359.4 895.9 L1362.3 887.6 L1365.3 895.9" fill="none" stroke="#ea5068" stroke-width="2.6" stroke-linejoin="round"/><path d="M1368.3 895.9 L1372.3 872.0 L1376.1 895.9 L1376.1 896.0 L1368.3 896.0 Z" fill="#ef7a8a"/><path d="M1368.3 895.9 L1372.3 872.0 L1376.1 895.9" fill="none" stroke="#ea5068" stroke-width="2.6" stroke-linejoin="round"/><path d="M1380.9 895.9 L1385.0 694.3 L1387.1 823.0 L1392.2 895.9 L1392.2 896.0 L1380.9 896.0 Z" fill="#ef7a8a"/><path d="M1380.9 895.9 L1385.0 694.3 L1387.1 823.0 L1392.2 895.9" fill="none" stroke="#ea5068" stroke-width="2.6" stroke-linejoin="round"/><path d="M1392.8 895.9 L1395.2 870.8 L1400.0 895.9 L1400.0 896.0 L1392.8 896.0 Z" fill="#ef7a8a"/><path d="M1392.8 895.9 L1395.2 870.8 L1400.0 895.9" fill="none" stroke="#ea5068" stroke-width="2.6" stroke-linejoin="round"/><path d="M1400.6 895.9 L1403.4 508.9 L1405.6 482.1 L1410.2 806.2 L1413.2 872.0 L1416.8 895.9 L1416.8 896.0 L1400.6 896.0 Z" fill="#ef7a8a"/><path d="M1400.6 895.9 L1403.4 508.9 L1405.6 482.1 L1410.2 806.2 L1413.2 872.0 L1416.8 895.9" fill="none" stroke="#ea5068" stroke-width="2.6" stroke-linejoin="round"/><path d="M1419.2 895.9 L1421.9 691.7 L1427.5 895.9 L1427.5 896.0 L1419.2 896.0 Z" fill="#ef7a8a"/><path d="M1419.2 895.9 L1421.9 691.7 L1427.5 895.9" fill="none" stroke="#ea5068" stroke-width="2.6" stroke-linejoin="round"/><path d="M1430.5 895.9 L1433.5 883.4 L1438.3 891.1 L1440.1 895.9 L1440.1 896.0 L1430.5 896.0 Z" fill="#ef7a8a"/><path d="M1430.5 895.9 L1433.5 883.4 L1438.3 891.1 L1440.1 895.9" fill="none" stroke="#ea5068" stroke-width="2.6" stroke-linejoin="round"/><path d="M1452.7 895.9 L1457.4 832.5 L1462.2 821.8 L1462.2 896.0 L1452.7 896.0 Z" fill="#ef7a8a"/><path d="M1452.7 895.9 L1457.4 832.5 L1462.2 821.8" fill="none" stroke="#ea5068" stroke-width="2.6" stroke-linejoin="round"/><circle cx="317.9" cy="840.9" r="3.5" fill="#fff"/><circle cx="317.9" cy="840.9" r="1.6" fill="#17ad8c"/><circle cx="321.5" cy="866.6" r="3.5" fill="#fff"/><circle cx="321.5" cy="866.6" r="1.6" fill="#17ad8c"/><circle cx="323.9" cy="875.6" r="3.5" fill="#fff"/><circle cx="323.9" cy="875.6" r="1.6" fill="#17ad8c"/><circle cx="334.7" cy="855.3" r="3.5" fill="#fff"/><circle cx="334.7" cy="855.3" r="1.6" fill="#17ad8c"/><circle cx="337.1" cy="889.4" r="3.5" fill="#fff"/><circle cx="337.1" cy="889.4" r="1.6" fill="#17ad8c"/><circle cx="347.5" cy="889.4" r="3.5" fill="#fff"/><circle cx="347.5" cy="889.4" r="1.6" fill="#17ad8c"/><circle cx="365.2" cy="864.8" r="3.5" fill="#fff"/><circle cx="365.2" cy="864.8" r="1.6" fill="#17ad8c"/><circle cx="373.2" cy="870.2" r="3.5" fill="#fff"/><circle cx="373.2" cy="870.2" r="1.6" fill="#17ad8c"/><circle cx="375.4" cy="861.8" r="3.5" fill="#fff"/><circle cx="375.4" cy="861.8" r="1.6" fill="#17ad8c"/><circle cx="383.4" cy="847.5" r="3.5" fill="#fff"/><circle cx="383.4" cy="847.5" r="1.6" fill="#17ad8c"/><circle cx="408.8" cy="861.8" r="3.5" fill="#fff"/><circle cx="408.8" cy="861.8" r="1.6" fill="#17ad8c"/><circle cx="411.7" cy="867.8" r="3.5" fill="#fff"/><circle cx="411.7" cy="867.8" r="1.6" fill="#17ad8c"/><circle cx="421.6" cy="855.0" r="3.5" fill="#fff"/><circle cx="421.6" cy="855.0" r="1.6" fill="#17ad8c"/><circle cx="429.4" cy="844.5" r="3.5" fill="#fff"/><circle cx="429.4" cy="844.5" r="1.6" fill="#17ad8c"/><circle cx="442.4" cy="759.0" r="3.5" fill="#fff"/><circle cx="442.4" cy="759.0" r="1.6" fill="#17ad8c"/><circle cx="452.2" cy="854.1" r="3.5" fill="#fff"/><circle cx="452.2" cy="854.1" r="1.6" fill="#17ad8c"/><circle cx="470.1" cy="852.6" r="3.5" fill="#fff"/><circle cx="470.1" cy="852.6" r="1.6" fill="#17ad8c"/><circle cx="473.9" cy="856.5" r="3.5" fill="#fff"/><circle cx="473.9" cy="856.5" r="1.6" fill="#17ad8c"/><circle cx="482.9" cy="808.6" r="3.5" fill="#fff"/><circle cx="482.9" cy="808.6" r="1.6" fill="#17ad8c"/><circle cx="490.7" cy="797.2" r="3.5" fill="#fff"/><circle cx="490.7" cy="797.2" r="1.6" fill="#17ad8c"/><circle cx="498.4" cy="825.6" r="3.5" fill="#fff"/><circle cx="498.4" cy="825.6" r="1.6" fill="#17ad8c"/><circle cx="509.1" cy="873.2" r="3.5" fill="#fff"/><circle cx="509.1" cy="873.2" r="1.6" fill="#17ad8c"/><circle cx="513.9" cy="883.4" r="3.5" fill="#fff"/><circle cx="513.9" cy="883.4" r="1.6" fill="#17ad8c"/><circle cx="515.7" cy="873.2" r="3.5" fill="#fff"/><circle cx="515.7" cy="873.2" r="1.6" fill="#17ad8c"/><circle cx="534.3" cy="785.9" r="3.5" fill="#fff"/><circle cx="534.3" cy="785.9" r="1.6" fill="#17ad8c"/><circle cx="536.7" cy="842.1" r="3.5" fill="#fff"/><circle cx="536.7" cy="842.1" r="1.6" fill="#17ad8c"/><circle cx="554.6" cy="864.8" r="3.5" fill="#fff"/><circle cx="554.6" cy="864.8" r="1.6" fill="#17ad8c"/><circle cx="577.9" cy="858.9" r="3.5" fill="#fff"/><circle cx="577.9" cy="858.9" r="1.6" fill="#17ad8c"/><circle cx="590.4" cy="751.2" r="3.5" fill="#fff"/><circle cx="590.4" cy="751.2" r="1.6" fill="#17ad8c"/><circle cx="593.4" cy="857.7" r="3.5" fill="#fff"/><circle cx="593.4" cy="857.7" r="1.6" fill="#17ad8c"/><circle cx="595.2" cy="859.8" r="3.5" fill="#fff"/><circle cx="595.2" cy="859.8" r="1.6" fill="#17ad8c"/><circle cx="599.4" cy="869.6" r="3.5" fill="#fff"/><circle cx="599.4" cy="869.6" r="1.6" fill="#17ad8c"/><circle cx="605.6" cy="847.1" r="3.5" fill="#fff"/><circle cx="605.6" cy="847.1" r="1.6" fill="#17ad8c"/><circle cx="631.4" cy="875.0" r="3.5" fill="#fff"/><circle cx="631.4" cy="875.0" r="1.6" fill="#17ad8c"/><circle cx="638.8" cy="863.0" r="3.5" fill="#fff"/><circle cx="638.8" cy="863.0" r="1.6" fill="#17ad8c"/><circle cx="649.2" cy="867.8" r="3.5" fill="#fff"/><circle cx="649.2" cy="867.8" r="1.6" fill="#17ad8c"/><circle cx="651.4" cy="873.2" r="3.5" fill="#fff"/><circle cx="651.4" cy="873.2" r="1.6" fill="#17ad8c"/><circle cx="669.3" cy="866.0" r="3.5" fill="#fff"/><circle cx="669.3" cy="866.0" r="1.6" fill="#17ad8c"/><circle cx="684.8" cy="829.5" r="3.5" fill="#fff"/><circle cx="684.8" cy="829.5" r="1.6" fill="#17ad8c"/><circle cx="692.6" cy="831.9" r="3.5" fill="#fff"/><circle cx="692.6" cy="831.9" r="1.6" fill="#17ad8c"/><circle cx="710.5" cy="870.8" r="3.5" fill="#fff"/><circle cx="710.5" cy="870.8" r="1.6" fill="#17ad8c"/><circle cx="725.7" cy="866.0" r="3.5" fill="#fff"/><circle cx="725.7" cy="866.0" r="1.6" fill="#17ad8c"/><circle cx="727.8" cy="873.2" r="3.5" fill="#fff"/><circle cx="727.8" cy="873.2" r="1.6" fill="#17ad8c"/><circle cx="733.8" cy="852.9" r="3.5" fill="#fff"/><circle cx="733.8" cy="852.9" r="1.6" fill="#17ad8c"/><circle cx="736.2" cy="843.9" r="3.5" fill="#fff"/><circle cx="736.2" cy="843.9" r="1.6" fill="#17ad8c"/><circle cx="748.7" cy="675.8" r="3.5" fill="#fff"/><circle cx="748.7" cy="675.8" r="1.6" fill="#17ad8c"/><circle cx="756.2" cy="795.2" r="3.5" fill="#fff"/><circle cx="756.2" cy="795.2" r="1.6" fill="#17ad8c"/><circle cx="764.3" cy="781.7" r="3.5" fill="#fff"/><circle cx="764.3" cy="781.7" r="1.6" fill="#17ad8c"/><circle cx="782.2" cy="869.6" r="3.5" fill="#fff"/><circle cx="782.2" cy="869.6" r="1.6" fill="#17ad8c"/><circle cx="784.6" cy="831.3" r="3.5" fill="#fff"/><circle cx="784.6" cy="831.3" r="1.6" fill="#17ad8c"/><circle cx="787.6" cy="861.2" r="3.5" fill="#fff"/><circle cx="787.6" cy="861.2" r="1.6" fill="#17ad8c"/><circle cx="789.7" cy="814.4" r="3.5" fill="#fff"/><circle cx="789.7" cy="814.4" r="1.6" fill="#17ad8c"/><circle cx="822.8" cy="820.8" r="3.5" fill="#fff"/><circle cx="822.8" cy="820.8" r="1.6" fill="#17ad8c"/><circle cx="825.2" cy="840.9" r="3.5" fill="#fff"/><circle cx="825.2" cy="840.9" r="1.6" fill="#17ad8c"/><circle cx="832.4" cy="825.4" r="3.5" fill="#fff"/><circle cx="832.4" cy="825.4" r="1.6" fill="#17ad8c"/><circle cx="851.0" cy="795.5" r="3.5" fill="#fff"/><circle cx="851.0" cy="795.5" r="1.6" fill="#17ad8c"/><circle cx="853.9" cy="854.1" r="3.5" fill="#fff"/><circle cx="853.9" cy="854.1" r="1.6" fill="#17ad8c"/><circle cx="861.1" cy="872.6" r="3.5" fill="#fff"/><circle cx="861.1" cy="872.6" r="1.6" fill="#17ad8c"/><circle cx="887.0" cy="854.7" r="3.5" fill="#fff"/><circle cx="887.0" cy="854.7" r="1.6" fill="#17ad8c"/><circle cx="907.3" cy="861.8" r="3.5" fill="#fff"/><circle cx="907.3" cy="861.8" r="1.6" fill="#17ad8c"/><circle cx="929.8" cy="879.2" r="3.5" fill="#fff"/><circle cx="929.8" cy="879.2" r="1.6" fill="#17ad8c"/><circle cx="966.0" cy="794.3" r="3.5" fill="#fff"/><circle cx="966.0" cy="794.3" r="1.6" fill="#17ad8c"/><circle cx="973.6" cy="794.9" r="3.5" fill="#fff"/><circle cx="973.6" cy="794.9" r="1.6" fill="#17ad8c"/><circle cx="994.3" cy="787.1" r="3.5" fill="#fff"/><circle cx="994.3" cy="787.1" r="1.6" fill="#17ad8c"/><circle cx="1014.6" cy="847.8" r="3.5" fill="#fff"/><circle cx="1014.6" cy="847.8" r="1.6" fill="#17ad8c"/><circle cx="1041.6" cy="832.5" r="3.5" fill="#fff"/><circle cx="1041.6" cy="832.5" r="1.6" fill="#17ad8c"/><circle cx="1063.1" cy="855.3" r="3.5" fill="#fff"/><circle cx="1063.1" cy="855.3" r="1.6" fill="#17ad8c"/><circle cx="1063.3" cy="855.3" r="3.5" fill="#fff"/><circle cx="1063.3" cy="855.3" r="1.6" fill="#17ad8c"/><circle cx="1075.9" cy="841.5" r="3.5" fill="#fff"/><circle cx="1075.9" cy="841.5" r="1.6" fill="#17ad8c"/><circle cx="1124.6" cy="875.0" r="3.5" fill="#fff"/><circle cx="1124.6" cy="875.0" r="1.6" fill="#17ad8c"/><circle cx="1127.0" cy="831.9" r="3.5" fill="#fff"/><circle cx="1127.0" cy="831.9" r="1.6" fill="#17ad8c"/><circle cx="1129.4" cy="866.0" r="3.5" fill="#fff"/><circle cx="1129.4" cy="866.0" r="1.6" fill="#17ad8c"/><circle cx="1137.2" cy="867.8" r="3.5" fill="#fff"/><circle cx="1137.2" cy="867.8" r="1.6" fill="#17ad8c"/><circle cx="1156.9" cy="848.1" r="3.5" fill="#fff"/><circle cx="1156.9" cy="848.1" r="1.6" fill="#17ad8c"/><circle cx="1162.8" cy="801.2" r="3.5" fill="#fff"/><circle cx="1162.8" cy="801.2" r="1.6" fill="#17ad8c"/><circle cx="1170.3" cy="870.6" r="3.5" fill="#fff"/><circle cx="1170.3" cy="870.6" r="1.6" fill="#17ad8c"/><circle cx="1190.9" cy="861.2" r="3.5" fill="#fff"/><circle cx="1190.9" cy="861.2" r="1.6" fill="#17ad8c"/><circle cx="1211.2" cy="828.3" r="3.5" fill="#fff"/><circle cx="1211.2" cy="828.3" r="1.6" fill="#17ad8c"/><circle cx="1229.2" cy="791.3" r="3.5" fill="#fff"/><circle cx="1229.2" cy="791.3" r="1.6" fill="#17ad8c"/><circle cx="1242.1" cy="799.6" r="3.5" fill="#fff"/><circle cx="1242.1" cy="799.6" r="1.6" fill="#17ad8c"/><circle cx="1247.1" cy="824.2" r="3.5" fill="#fff"/><circle cx="1247.1" cy="824.2" r="1.6" fill="#17ad8c"/><circle cx="1259.8" cy="858.6" r="3.5" fill="#fff"/><circle cx="1259.8" cy="858.6" r="1.6" fill="#17ad8c"/><circle cx="1280.5" cy="870.2" r="3.5" fill="#fff"/><circle cx="1280.5" cy="870.2" r="1.6" fill="#17ad8c"/><circle cx="1298.1" cy="866.0" r="3.5" fill="#fff"/><circle cx="1298.1" cy="866.0" r="1.6" fill="#17ad8c"/><circle cx="1300.8" cy="870.2" r="3.5" fill="#fff"/><circle cx="1300.8" cy="870.2" r="1.6" fill="#17ad8c"/><circle cx="1323.9" cy="874.4" r="3.5" fill="#fff"/><circle cx="1323.9" cy="874.4" r="1.6" fill="#17ad8c"/><circle cx="1326.3" cy="858.3" r="3.5" fill="#fff"/><circle cx="1326.3" cy="858.3" r="1.6" fill="#17ad8c"/><circle cx="1328.7" cy="843.9" r="3.5" fill="#fff"/><circle cx="1328.7" cy="843.9" r="1.6" fill="#17ad8c"/><circle cx="1349.0" cy="818.2" r="3.5" fill="#fff"/><circle cx="1349.0" cy="818.2" r="1.6" fill="#17ad8c"/><circle cx="1349.5" cy="818.2" r="3.5" fill="#fff"/><circle cx="1349.5" cy="818.2" r="1.6" fill="#17ad8c"/><circle cx="1362.3" cy="855.3" r="3.5" fill="#fff"/><circle cx="1362.3" cy="855.3" r="1.6" fill="#17ad8c"/><circle cx="1364.7" cy="863.6" r="3.5" fill="#fff"/><circle cx="1364.7" cy="863.6" r="1.6" fill="#17ad8c"/><circle cx="1372.5" cy="834.9" r="3.5" fill="#fff"/><circle cx="1372.5" cy="834.9" r="1.6" fill="#17ad8c"/><circle cx="1389.0" cy="764.0" r="3.5" fill="#fff"/><circle cx="1389.0" cy="764.0" r="1.6" fill="#17ad8c"/><circle cx="1395.5" cy="832.5" r="3.5" fill="#fff"/><circle cx="1395.5" cy="832.5" r="1.6" fill="#17ad8c"/><circle cx="1421.6" cy="857.7" r="3.5" fill="#fff"/><circle cx="1421.6" cy="857.7" r="1.6" fill="#17ad8c"/><circle cx="1456.5" cy="787.7" r="3.5" fill="#fff"/><circle cx="1456.5" cy="787.7" r="1.6" fill="#17ad8c"/><circle cx="306.0" cy="895.5" r="3.5" fill="#fff"/><circle cx="306.0" cy="895.5" r="1.6" fill="#ea5068"/><circle cx="310.2" cy="895.5" r="3.5" fill="#fff"/><circle cx="310.2" cy="895.5" r="1.6" fill="#ea5068"/><circle cx="312.9" cy="895.5" r="3.5" fill="#fff"/><circle cx="312.9" cy="895.5" r="1.6" fill="#ea5068"/><circle cx="320.6" cy="895.5" r="3.5" fill="#fff"/><circle cx="320.6" cy="895.5" r="1.6" fill="#ea5068"/><circle cx="326.6" cy="895.5" r="3.5" fill="#fff"/><circle cx="326.6" cy="895.5" r="1.6" fill="#ea5068"/><circle cx="332.9" cy="895.5" r="3.5" fill="#fff"/><circle cx="332.9" cy="895.5" r="1.6" fill="#ea5068"/><circle cx="338.0" cy="895.5" r="3.5" fill="#fff"/><circle cx="338.0" cy="895.5" r="1.6" fill="#ea5068"/><circle cx="343.0" cy="895.5" r="3.5" fill="#fff"/><circle cx="343.0" cy="895.5" r="1.6" fill="#ea5068"/><circle cx="348.1" cy="895.5" r="3.5" fill="#fff"/><circle cx="348.1" cy="895.5" r="1.6" fill="#ea5068"/><circle cx="353.2" cy="895.5" r="3.5" fill="#fff"/><circle cx="353.2" cy="895.5" r="1.6" fill="#ea5068"/><circle cx="359.8" cy="895.5" r="3.5" fill="#fff"/><circle cx="359.8" cy="895.5" r="1.6" fill="#ea5068"/><circle cx="366.4" cy="895.5" r="3.5" fill="#fff"/><circle cx="366.4" cy="895.5" r="1.6" fill="#ea5068"/><circle cx="371.8" cy="895.5" r="3.5" fill="#fff"/><circle cx="371.8" cy="895.5" r="1.6" fill="#ea5068"/><circle cx="377.2" cy="895.5" r="3.5" fill="#fff"/><circle cx="377.2" cy="895.5" r="1.6" fill="#ea5068"/><circle cx="382.5" cy="895.5" r="3.5" fill="#fff"/><circle cx="382.5" cy="895.5" r="1.6" fill="#ea5068"/><circle cx="387.9" cy="895.5" r="3.5" fill="#fff"/><circle cx="387.9" cy="895.5" r="1.6" fill="#ea5068"/><circle cx="393.3" cy="895.5" r="3.5" fill="#fff"/><circle cx="393.3" cy="895.5" r="1.6" fill="#ea5068"/><circle cx="400.5" cy="895.5" r="3.5" fill="#fff"/><circle cx="400.5" cy="895.5" r="1.6" fill="#ea5068"/><circle cx="406.5" cy="895.5" r="3.5" fill="#fff"/><circle cx="406.5" cy="895.5" r="1.6" fill="#ea5068"/><circle cx="412.6" cy="895.5" r="3.5" fill="#fff"/><circle cx="412.6" cy="895.5" r="1.6" fill="#ea5068"/><circle cx="418.6" cy="895.5" r="3.5" fill="#fff"/><circle cx="418.6" cy="895.5" r="1.6" fill="#ea5068"/><circle cx="424.9" cy="895.5" r="3.5" fill="#fff"/><circle cx="424.9" cy="895.5" r="1.6" fill="#ea5068"/><circle cx="426.3" cy="895.5" r="3.5" fill="#fff"/><circle cx="426.3" cy="895.5" r="1.6" fill="#ea5068"/><circle cx="433.0" cy="895.5" r="3.5" fill="#fff"/><circle cx="433.0" cy="895.5" r="1.6" fill="#ea5068"/><circle cx="434.5" cy="895.5" r="3.5" fill="#fff"/><circle cx="434.5" cy="895.5" r="1.6" fill="#ea5068"/><circle cx="437.5" cy="895.5" r="3.5" fill="#fff"/><circle cx="437.5" cy="895.5" r="1.6" fill="#ea5068"/><circle cx="440.5" cy="895.5" r="3.5" fill="#fff"/><circle cx="440.5" cy="895.5" r="1.6" fill="#ea5068"/><circle cx="447.6" cy="895.5" r="3.5" fill="#fff"/><circle cx="447.6" cy="895.5" r="1.6" fill="#ea5068"/><circle cx="449.4" cy="895.5" r="3.5" fill="#fff"/><circle cx="449.4" cy="895.5" r="1.6" fill="#ea5068"/><circle cx="454.8" cy="895.5" r="3.5" fill="#fff"/><circle cx="454.8" cy="895.5" r="1.6" fill="#ea5068"/><circle cx="460.2" cy="895.5" r="3.5" fill="#fff"/><circle cx="460.2" cy="895.5" r="1.6" fill="#ea5068"/><circle cx="468.6" cy="895.5" r="3.5" fill="#fff"/><circle cx="468.6" cy="895.5" r="1.6" fill="#ea5068"/><circle cx="474.0" cy="895.5" r="3.5" fill="#fff"/><circle cx="474.0" cy="895.5" r="1.6" fill="#ea5068"/><circle cx="479.3" cy="895.5" r="3.5" fill="#fff"/><circle cx="479.3" cy="895.5" r="1.6" fill="#ea5068"/><circle cx="480.5" cy="895.5" r="3.5" fill="#fff"/><circle cx="480.5" cy="895.5" r="1.6" fill="#ea5068"/><circle cx="485.9" cy="895.5" r="3.5" fill="#fff"/><circle cx="485.9" cy="895.5" r="1.6" fill="#ea5068"/><circle cx="489.4" cy="895.5" r="3.5" fill="#fff"/><circle cx="489.4" cy="895.5" r="1.6" fill="#ea5068"/><circle cx="496.0" cy="895.5" r="3.5" fill="#fff"/><circle cx="496.0" cy="895.5" r="1.6" fill="#ea5068"/><circle cx="502.6" cy="895.5" r="3.5" fill="#fff"/><circle cx="502.6" cy="895.5" r="1.6" fill="#ea5068"/><circle cx="504.1" cy="895.5" r="3.5" fill="#fff"/><circle cx="504.1" cy="895.5" r="1.6" fill="#ea5068"/><circle cx="510.3" cy="895.5" r="3.5" fill="#fff"/><circle cx="510.3" cy="895.5" r="1.6" fill="#ea5068"/><circle cx="515.7" cy="895.5" r="3.5" fill="#fff"/><circle cx="515.7" cy="895.5" r="1.6" fill="#ea5068"/><circle cx="524.7" cy="895.5" r="3.5" fill="#fff"/><circle cx="524.7" cy="895.5" r="1.6" fill="#ea5068"/><circle cx="528.3" cy="895.5" r="3.5" fill="#fff"/><circle cx="528.3" cy="895.5" r="1.6" fill="#ea5068"/><circle cx="534.2" cy="895.5" r="3.5" fill="#fff"/><circle cx="534.2" cy="895.5" r="1.6" fill="#ea5068"/><circle cx="540.2" cy="895.5" r="3.5" fill="#fff"/><circle cx="540.2" cy="895.5" r="1.6" fill="#ea5068"/><circle cx="546.8" cy="895.5" r="3.5" fill="#fff"/><circle cx="546.8" cy="895.5" r="1.6" fill="#ea5068"/><circle cx="553.4" cy="895.5" r="3.5" fill="#fff"/><circle cx="553.4" cy="895.5" r="1.6" fill="#ea5068"/><circle cx="559.4" cy="895.5" r="3.5" fill="#fff"/><circle cx="559.4" cy="895.5" r="1.6" fill="#ea5068"/><circle cx="565.3" cy="895.5" r="3.5" fill="#fff"/><circle cx="565.3" cy="895.5" r="1.6" fill="#ea5068"/><circle cx="571.3" cy="895.5" r="3.5" fill="#fff"/><circle cx="571.3" cy="895.5" r="1.6" fill="#ea5068"/><circle cx="577.3" cy="895.5" r="3.5" fill="#fff"/><circle cx="577.3" cy="895.5" r="1.6" fill="#ea5068"/><circle cx="583.3" cy="895.5" r="3.5" fill="#fff"/><circle cx="583.3" cy="895.5" r="1.6" fill="#ea5068"/><circle cx="589.2" cy="895.5" r="3.5" fill="#fff"/><circle cx="589.2" cy="895.5" r="1.6" fill="#ea5068"/><circle cx="595.2" cy="895.5" r="3.5" fill="#fff"/><circle cx="595.2" cy="895.5" r="1.6" fill="#ea5068"/><circle cx="600.8" cy="895.5" r="3.5" fill="#fff"/><circle cx="600.8" cy="895.5" r="1.6" fill="#ea5068"/><circle cx="606.3" cy="895.5" r="3.5" fill="#fff"/><circle cx="606.3" cy="895.5" r="1.6" fill="#ea5068"/><circle cx="611.9" cy="895.5" r="3.5" fill="#fff"/><circle cx="611.9" cy="895.5" r="1.6" fill="#ea5068"/><circle cx="619.1" cy="895.5" r="3.5" fill="#fff"/><circle cx="619.1" cy="895.5" r="1.6" fill="#ea5068"/><circle cx="628.7" cy="895.5" r="3.5" fill="#fff"/><circle cx="628.7" cy="895.5" r="1.6" fill="#ea5068"/><circle cx="637.6" cy="895.5" r="3.5" fill="#fff"/><circle cx="637.6" cy="895.5" r="1.6" fill="#ea5068"/><circle cx="642.7" cy="895.5" r="3.5" fill="#fff"/><circle cx="642.7" cy="895.5" r="1.6" fill="#ea5068"/><circle cx="647.8" cy="895.5" r="3.5" fill="#fff"/><circle cx="647.8" cy="895.5" r="1.6" fill="#ea5068"/><circle cx="653.0" cy="895.5" r="3.5" fill="#fff"/><circle cx="653.0" cy="895.5" r="1.6" fill="#ea5068"/><circle cx="658.2" cy="895.5" r="3.5" fill="#fff"/><circle cx="658.2" cy="895.5" r="1.6" fill="#ea5068"/><circle cx="663.5" cy="895.5" r="3.5" fill="#fff"/><circle cx="663.5" cy="895.5" r="1.6" fill="#ea5068"/><circle cx="668.7" cy="895.5" r="3.5" fill="#fff"/><circle cx="668.7" cy="895.5" r="1.6" fill="#ea5068"/><circle cx="676.5" cy="895.5" r="3.5" fill="#fff"/><circle cx="676.5" cy="895.5" r="1.6" fill="#ea5068"/><circle cx="677.6" cy="895.5" r="3.5" fill="#fff"/><circle cx="677.6" cy="895.5" r="1.6" fill="#ea5068"/><circle cx="683.9" cy="895.5" r="3.5" fill="#fff"/><circle cx="683.9" cy="895.5" r="1.6" fill="#ea5068"/><circle cx="690.2" cy="895.5" r="3.5" fill="#fff"/><circle cx="690.2" cy="895.5" r="1.6" fill="#ea5068"/><circle cx="695.4" cy="895.5" r="3.5" fill="#fff"/><circle cx="695.4" cy="895.5" r="1.6" fill="#ea5068"/><circle cx="700.5" cy="895.5" r="3.5" fill="#fff"/><circle cx="700.5" cy="895.5" r="1.6" fill="#ea5068"/><circle cx="705.7" cy="895.5" r="3.5" fill="#fff"/><circle cx="705.7" cy="895.5" r="1.6" fill="#ea5068"/><circle cx="713.5" cy="895.5" r="3.5" fill="#fff"/><circle cx="713.5" cy="895.5" r="1.6" fill="#ea5068"/><circle cx="721.3" cy="895.5" r="3.5" fill="#fff"/><circle cx="721.3" cy="895.5" r="1.6" fill="#ea5068"/><circle cx="726.7" cy="895.5" r="3.5" fill="#fff"/><circle cx="726.7" cy="895.5" r="1.6" fill="#ea5068"/><circle cx="733.9" cy="895.5" r="3.5" fill="#fff"/><circle cx="733.9" cy="895.5" r="1.6" fill="#ea5068"/><circle cx="741.0" cy="895.5" r="3.5" fill="#fff"/><circle cx="741.0" cy="895.5" r="1.6" fill="#ea5068"/><circle cx="747.0" cy="895.5" r="3.5" fill="#fff"/><circle cx="747.0" cy="895.5" r="1.6" fill="#ea5068"/><circle cx="753.0" cy="895.5" r="3.5" fill="#fff"/><circle cx="753.0" cy="895.5" r="1.6" fill="#ea5068"/><circle cx="759.0" cy="895.5" r="3.5" fill="#fff"/><circle cx="759.0" cy="895.5" r="1.6" fill="#ea5068"/><circle cx="765.0" cy="895.5" r="3.5" fill="#fff"/><circle cx="765.0" cy="895.5" r="1.6" fill="#ea5068"/><circle cx="771.2" cy="895.5" r="3.5" fill="#fff"/><circle cx="771.2" cy="895.5" r="1.6" fill="#ea5068"/><circle cx="777.4" cy="895.5" r="3.5" fill="#fff"/><circle cx="777.4" cy="895.5" r="1.6" fill="#ea5068"/><circle cx="783.2" cy="895.5" r="3.5" fill="#fff"/><circle cx="783.2" cy="895.5" r="1.6" fill="#ea5068"/><circle cx="788.9" cy="895.5" r="3.5" fill="#fff"/><circle cx="788.9" cy="895.5" r="1.6" fill="#ea5068"/><circle cx="794.7" cy="895.5" r="3.5" fill="#fff"/><circle cx="794.7" cy="895.5" r="1.6" fill="#ea5068"/><circle cx="795.6" cy="895.5" r="3.5" fill="#fff"/><circle cx="795.6" cy="895.5" r="1.6" fill="#ea5068"/><circle cx="803.7" cy="895.5" r="3.5" fill="#fff"/><circle cx="803.7" cy="895.5" r="1.6" fill="#ea5068"/><circle cx="812.1" cy="895.5" r="3.5" fill="#fff"/><circle cx="812.1" cy="895.5" r="1.6" fill="#ea5068"/><circle cx="819.3" cy="895.5" r="3.5" fill="#fff"/><circle cx="819.3" cy="895.5" r="1.6" fill="#ea5068"/><circle cx="819.9" cy="895.5" r="3.5" fill="#fff"/><circle cx="819.9" cy="895.5" r="1.6" fill="#ea5068"/><circle cx="825.0" cy="895.5" r="3.5" fill="#fff"/><circle cx="825.0" cy="895.5" r="1.6" fill="#ea5068"/><circle cx="830.0" cy="895.5" r="3.5" fill="#fff"/><circle cx="830.0" cy="895.5" r="1.6" fill="#ea5068"/><circle cx="835.1" cy="895.5" r="3.5" fill="#fff"/><circle cx="835.1" cy="895.5" r="1.6" fill="#ea5068"/><circle cx="840.2" cy="895.5" r="3.5" fill="#fff"/><circle cx="840.2" cy="895.5" r="1.6" fill="#ea5068"/><circle cx="845.6" cy="895.5" r="3.5" fill="#fff"/><circle cx="845.6" cy="895.5" r="1.6" fill="#ea5068"/><circle cx="851.0" cy="895.5" r="3.5" fill="#fff"/><circle cx="851.0" cy="895.5" r="1.6" fill="#ea5068"/><circle cx="856.3" cy="895.5" r="3.5" fill="#fff"/><circle cx="856.3" cy="895.5" r="1.6" fill="#ea5068"/><circle cx="861.7" cy="895.5" r="3.5" fill="#fff"/><circle cx="861.7" cy="895.5" r="1.6" fill="#ea5068"/><circle cx="867.1" cy="895.5" r="3.5" fill="#fff"/><circle cx="867.1" cy="895.5" r="1.6" fill="#ea5068"/><circle cx="870.7" cy="895.5" r="3.5" fill="#fff"/><circle cx="870.7" cy="895.5" r="1.6" fill="#ea5068"/><circle cx="873.1" cy="895.5" r="3.5" fill="#fff"/><circle cx="873.1" cy="895.5" r="1.6" fill="#ea5068"/><circle cx="873.6" cy="895.5" r="3.5" fill="#fff"/><circle cx="873.6" cy="895.5" r="1.6" fill="#ea5068"/><circle cx="877.9" cy="895.5" r="3.5" fill="#fff"/><circle cx="877.9" cy="895.5" r="1.6" fill="#ea5068"/><circle cx="880.8" cy="895.5" r="3.5" fill="#fff"/><circle cx="880.8" cy="895.5" r="1.6" fill="#ea5068"/><circle cx="889.1" cy="895.5" r="3.5" fill="#fff"/><circle cx="889.1" cy="895.5" r="1.6" fill="#ea5068"/><circle cx="895.1" cy="895.5" r="3.5" fill="#fff"/><circle cx="895.1" cy="895.5" r="1.6" fill="#ea5068"/><circle cx="901.1" cy="895.5" r="3.5" fill="#fff"/><circle cx="901.1" cy="895.5" r="1.6" fill="#ea5068"/><circle cx="907.1" cy="895.5" r="3.5" fill="#fff"/><circle cx="907.1" cy="895.5" r="1.6" fill="#ea5068"/><circle cx="910.7" cy="895.5" r="3.5" fill="#fff"/><circle cx="910.7" cy="895.5" r="1.6" fill="#ea5068"/><circle cx="917.0" cy="895.5" r="3.5" fill="#fff"/><circle cx="917.0" cy="895.5" r="1.6" fill="#ea5068"/><circle cx="923.2" cy="895.5" r="3.5" fill="#fff"/><circle cx="923.2" cy="895.5" r="1.6" fill="#ea5068"/><circle cx="929.8" cy="895.5" r="3.5" fill="#fff"/><circle cx="929.8" cy="895.5" r="1.6" fill="#ea5068"/><circle cx="935.5" cy="895.5" r="3.5" fill="#fff"/><circle cx="935.5" cy="895.5" r="1.6" fill="#ea5068"/><circle cx="941.1" cy="895.5" r="3.5" fill="#fff"/><circle cx="941.1" cy="895.5" r="1.6" fill="#ea5068"/><circle cx="942.0" cy="895.5" r="3.5" fill="#fff"/><circle cx="942.0" cy="895.5" r="1.6" fill="#ea5068"/><circle cx="947.5" cy="895.5" r="3.5" fill="#fff"/><circle cx="947.5" cy="895.5" r="1.6" fill="#ea5068"/><circle cx="948.9" cy="895.5" r="3.5" fill="#fff"/><circle cx="948.9" cy="895.5" r="1.6" fill="#ea5068"/><circle cx="954.6" cy="895.5" r="3.5" fill="#fff"/><circle cx="954.6" cy="895.5" r="1.6" fill="#ea5068"/><circle cx="960.4" cy="895.5" r="3.5" fill="#fff"/><circle cx="960.4" cy="895.5" r="1.6" fill="#ea5068"/><circle cx="966.1" cy="895.5" r="3.5" fill="#fff"/><circle cx="966.1" cy="895.5" r="1.6" fill="#ea5068"/><circle cx="971.9" cy="895.5" r="3.5" fill="#fff"/><circle cx="971.9" cy="895.5" r="1.6" fill="#ea5068"/><circle cx="972.2" cy="895.5" r="3.5" fill="#fff"/><circle cx="972.2" cy="895.5" r="1.6" fill="#ea5068"/><circle cx="978.2" cy="895.5" r="3.5" fill="#fff"/><circle cx="978.2" cy="895.5" r="1.6" fill="#ea5068"/><circle cx="984.1" cy="895.5" r="3.5" fill="#fff"/><circle cx="984.1" cy="895.5" r="1.6" fill="#ea5068"/><circle cx="987.7" cy="895.5" r="3.5" fill="#fff"/><circle cx="987.7" cy="895.5" r="1.6" fill="#ea5068"/><circle cx="996.1" cy="895.5" r="3.5" fill="#fff"/><circle cx="996.1" cy="895.5" r="1.6" fill="#ea5068"/><circle cx="999.1" cy="895.5" r="3.5" fill="#fff"/><circle cx="999.1" cy="895.5" r="1.6" fill="#ea5068"/><circle cx="1004.2" cy="895.5" r="3.5" fill="#fff"/><circle cx="1004.2" cy="895.5" r="1.6" fill="#ea5068"/><circle cx="1009.3" cy="895.5" r="3.5" fill="#fff"/><circle cx="1009.3" cy="895.5" r="1.6" fill="#ea5068"/><circle cx="1016.1" cy="895.5" r="3.5" fill="#fff"/><circle cx="1016.1" cy="895.5" r="1.6" fill="#ea5068"/><circle cx="1023.0" cy="895.5" r="3.5" fill="#fff"/><circle cx="1023.0" cy="895.5" r="1.6" fill="#ea5068"/><circle cx="1029.6" cy="895.5" r="3.5" fill="#fff"/><circle cx="1029.6" cy="895.5" r="1.6" fill="#ea5068"/><circle cx="1034.4" cy="895.5" r="3.5" fill="#fff"/><circle cx="1034.4" cy="895.5" r="1.6" fill="#ea5068"/><circle cx="1041.6" cy="895.5" r="3.5" fill="#fff"/><circle cx="1041.6" cy="895.5" r="1.6" fill="#ea5068"/><circle cx="1050.5" cy="895.5" r="3.5" fill="#fff"/><circle cx="1050.5" cy="895.5" r="1.6" fill="#ea5068"/><circle cx="1060.0" cy="895.5" r="3.5" fill="#fff"/><circle cx="1060.0" cy="895.5" r="1.6" fill="#ea5068"/><circle cx="1060.7" cy="895.5" r="3.5" fill="#fff"/><circle cx="1060.7" cy="895.5" r="1.6" fill="#ea5068"/><circle cx="1066.7" cy="895.5" r="3.5" fill="#fff"/><circle cx="1066.7" cy="895.5" r="1.6" fill="#ea5068"/><circle cx="1071.7" cy="895.5" r="3.5" fill="#fff"/><circle cx="1071.7" cy="895.5" r="1.6" fill="#ea5068"/><circle cx="1076.7" cy="895.5" r="3.5" fill="#fff"/><circle cx="1076.7" cy="895.5" r="1.6" fill="#ea5068"/><circle cx="1081.7" cy="895.5" r="3.5" fill="#fff"/><circle cx="1081.7" cy="895.5" r="1.6" fill="#ea5068"/><circle cx="1086.7" cy="895.5" r="3.5" fill="#fff"/><circle cx="1086.7" cy="895.5" r="1.6" fill="#ea5068"/><circle cx="1091.7" cy="895.5" r="3.5" fill="#fff"/><circle cx="1091.7" cy="895.5" r="1.6" fill="#ea5068"/><circle cx="1101.3" cy="895.5" r="3.5" fill="#fff"/><circle cx="1101.3" cy="895.5" r="1.6" fill="#ea5068"/><circle cx="1108.4" cy="895.5" r="3.5" fill="#fff"/><circle cx="1108.4" cy="895.5" r="1.6" fill="#ea5068"/><circle cx="1115.0" cy="895.5" r="3.5" fill="#fff"/><circle cx="1115.0" cy="895.5" r="1.6" fill="#ea5068"/><circle cx="1121.0" cy="895.5" r="3.5" fill="#fff"/><circle cx="1121.0" cy="895.5" r="1.6" fill="#ea5068"/><circle cx="1130.6" cy="895.5" r="3.5" fill="#fff"/><circle cx="1130.6" cy="895.5" r="1.6" fill="#ea5068"/><circle cx="1135.4" cy="895.5" r="3.5" fill="#fff"/><circle cx="1135.4" cy="895.5" r="1.6" fill="#ea5068"/><circle cx="1142.5" cy="895.5" r="3.5" fill="#fff"/><circle cx="1142.5" cy="895.5" r="1.6" fill="#ea5068"/><circle cx="1149.5" cy="895.5" r="3.5" fill="#fff"/><circle cx="1149.5" cy="895.5" r="1.6" fill="#ea5068"/><circle cx="1156.7" cy="895.5" r="3.5" fill="#fff"/><circle cx="1156.7" cy="895.5" r="1.6" fill="#ea5068"/><circle cx="1160.4" cy="895.5" r="3.5" fill="#fff"/><circle cx="1160.4" cy="895.5" r="1.6" fill="#ea5068"/><circle cx="1169.4" cy="895.5" r="3.5" fill="#fff"/><circle cx="1169.4" cy="895.5" r="1.6" fill="#ea5068"/><circle cx="1175.1" cy="895.5" r="3.5" fill="#fff"/><circle cx="1175.1" cy="895.5" r="1.6" fill="#ea5068"/><circle cx="1180.7" cy="895.5" r="3.5" fill="#fff"/><circle cx="1180.7" cy="895.5" r="1.6" fill="#ea5068"/><circle cx="1188.5" cy="895.5" r="3.5" fill="#fff"/><circle cx="1188.5" cy="895.5" r="1.6" fill="#ea5068"/><circle cx="1197.5" cy="895.5" r="3.5" fill="#fff"/><circle cx="1197.5" cy="895.5" r="1.6" fill="#ea5068"/><circle cx="1205.2" cy="895.5" r="3.5" fill="#fff"/><circle cx="1205.2" cy="895.5" r="1.6" fill="#ea5068"/><circle cx="1205.8" cy="895.5" r="3.5" fill="#fff"/><circle cx="1205.8" cy="895.5" r="1.6" fill="#ea5068"/><circle cx="1211.6" cy="895.5" r="3.5" fill="#fff"/><circle cx="1211.6" cy="895.5" r="1.6" fill="#ea5068"/><circle cx="1217.4" cy="895.5" r="3.5" fill="#fff"/><circle cx="1217.4" cy="895.5" r="1.6" fill="#ea5068"/><circle cx="1223.2" cy="895.5" r="3.5" fill="#fff"/><circle cx="1223.2" cy="895.5" r="1.6" fill="#ea5068"/><circle cx="1226.8" cy="895.5" r="3.5" fill="#fff"/><circle cx="1226.8" cy="895.5" r="1.6" fill="#ea5068"/><circle cx="1232.2" cy="895.5" r="3.5" fill="#fff"/><circle cx="1232.2" cy="895.5" r="1.6" fill="#ea5068"/><circle cx="1237.5" cy="895.5" r="3.5" fill="#fff"/><circle cx="1237.5" cy="895.5" r="1.6" fill="#ea5068"/><circle cx="1239.9" cy="895.5" r="3.5" fill="#fff"/><circle cx="1239.9" cy="895.5" r="1.6" fill="#ea5068"/><circle cx="1245.0" cy="895.5" r="3.5" fill="#fff"/><circle cx="1245.0" cy="895.5" r="1.6" fill="#ea5068"/><circle cx="1250.1" cy="895.5" r="3.5" fill="#fff"/><circle cx="1250.1" cy="895.5" r="1.6" fill="#ea5068"/><circle cx="1255.2" cy="895.5" r="3.5" fill="#fff"/><circle cx="1255.2" cy="895.5" r="1.6" fill="#ea5068"/><circle cx="1260.3" cy="895.5" r="3.5" fill="#fff"/><circle cx="1260.3" cy="895.5" r="1.6" fill="#ea5068"/><circle cx="1263.2" cy="895.5" r="3.5" fill="#fff"/><circle cx="1263.2" cy="895.5" r="1.6" fill="#ea5068"/><circle cx="1267.3" cy="895.5" r="3.5" fill="#fff"/><circle cx="1267.3" cy="895.5" r="1.6" fill="#ea5068"/><circle cx="1270.9" cy="895.5" r="3.5" fill="#fff"/><circle cx="1270.9" cy="895.5" r="1.6" fill="#ea5068"/><circle cx="1276.9" cy="895.5" r="3.5" fill="#fff"/><circle cx="1276.9" cy="895.5" r="1.6" fill="#ea5068"/><circle cx="1284.1" cy="895.5" r="3.5" fill="#fff"/><circle cx="1284.1" cy="895.5" r="1.6" fill="#ea5068"/><circle cx="1291.3" cy="895.5" r="3.5" fill="#fff"/><circle cx="1291.3" cy="895.5" r="1.6" fill="#ea5068"/><circle cx="1296.3" cy="895.5" r="3.5" fill="#fff"/><circle cx="1296.3" cy="895.5" r="1.6" fill="#ea5068"/><circle cx="1301.4" cy="895.5" r="3.5" fill="#fff"/><circle cx="1301.4" cy="895.5" r="1.6" fill="#ea5068"/><circle cx="1306.2" cy="895.5" r="3.5" fill="#fff"/><circle cx="1306.2" cy="895.5" r="1.6" fill="#ea5068"/><circle cx="1313.4" cy="895.5" r="3.5" fill="#fff"/><circle cx="1313.4" cy="895.5" r="1.6" fill="#ea5068"/><circle cx="1323.0" cy="895.5" r="3.5" fill="#fff"/><circle cx="1323.0" cy="895.5" r="1.6" fill="#ea5068"/><circle cx="1328.3" cy="895.5" r="3.5" fill="#fff"/><circle cx="1328.3" cy="895.5" r="1.6" fill="#ea5068"/><circle cx="1333.7" cy="895.5" r="3.5" fill="#fff"/><circle cx="1333.7" cy="895.5" r="1.6" fill="#ea5068"/><circle cx="1334.3" cy="895.5" r="3.5" fill="#fff"/><circle cx="1334.3" cy="895.5" r="1.6" fill="#ea5068"/><circle cx="1342.6" cy="895.5" r="3.5" fill="#fff"/><circle cx="1342.6" cy="895.5" r="1.6" fill="#ea5068"/><circle cx="1350.0" cy="895.5" r="3.5" fill="#fff"/><circle cx="1350.0" cy="895.5" r="1.6" fill="#ea5068"/><circle cx="1354.6" cy="895.5" r="3.5" fill="#fff"/><circle cx="1354.6" cy="895.5" r="1.6" fill="#ea5068"/><circle cx="1359.4" cy="895.5" r="3.5" fill="#fff"/><circle cx="1359.4" cy="895.5" r="1.6" fill="#ea5068"/><circle cx="1365.3" cy="895.5" r="3.5" fill="#fff"/><circle cx="1365.3" cy="895.5" r="1.6" fill="#ea5068"/><circle cx="1368.3" cy="895.5" r="3.5" fill="#fff"/><circle cx="1368.3" cy="895.5" r="1.6" fill="#ea5068"/><circle cx="1376.1" cy="895.5" r="3.5" fill="#fff"/><circle cx="1376.1" cy="895.5" r="1.6" fill="#ea5068"/><circle cx="1380.9" cy="895.5" r="3.5" fill="#fff"/><circle cx="1380.9" cy="895.5" r="1.6" fill="#ea5068"/><circle cx="1386.6" cy="895.5" r="3.5" fill="#fff"/><circle cx="1386.6" cy="895.5" r="1.6" fill="#ea5068"/><circle cx="1392.2" cy="895.5" r="3.5" fill="#fff"/><circle cx="1392.2" cy="895.5" r="1.6" fill="#ea5068"/><circle cx="1392.8" cy="895.5" r="3.5" fill="#fff"/><circle cx="1392.8" cy="895.5" r="1.6" fill="#ea5068"/><circle cx="1400.0" cy="895.5" r="3.5" fill="#fff"/><circle cx="1400.0" cy="895.5" r="1.6" fill="#ea5068"/><circle cx="1400.6" cy="895.5" r="3.5" fill="#fff"/><circle cx="1400.6" cy="895.5" r="1.6" fill="#ea5068"/><circle cx="1406.0" cy="895.5" r="3.5" fill="#fff"/><circle cx="1406.0" cy="895.5" r="1.6" fill="#ea5068"/><circle cx="1411.4" cy="895.5" r="3.5" fill="#fff"/><circle cx="1411.4" cy="895.5" r="1.6" fill="#ea5068"/><circle cx="1416.8" cy="895.5" r="3.5" fill="#fff"/><circle cx="1416.8" cy="895.5" r="1.6" fill="#ea5068"/><circle cx="1419.2" cy="895.5" r="3.5" fill="#fff"/><circle cx="1419.2" cy="895.5" r="1.6" fill="#ea5068"/><circle cx="1427.5" cy="895.5" r="3.5" fill="#fff"/><circle cx="1427.5" cy="895.5" r="1.6" fill="#ea5068"/><circle cx="1430.5" cy="895.5" r="3.5" fill="#fff"/><circle cx="1430.5" cy="895.5" r="1.6" fill="#ea5068"/><circle cx="1440.1" cy="895.5" r="3.5" fill="#fff"/><circle cx="1440.1" cy="895.5" r="1.6" fill="#ea5068"/><circle cx="1446.4" cy="895.5" r="3.5" fill="#fff"/><circle cx="1446.4" cy="895.5" r="1.6" fill="#ea5068"/><circle cx="1452.7" cy="895.5" r="3.5" fill="#fff"/><circle cx="1452.7" cy="895.5" r="1.6" fill="#ea5068"/><circle cx="1462.0" cy="895.5" r="3.5" fill="#fff"/><circle cx="1462.0" cy="895.5" r="1.6" fill="#ea5068"/><circle cx="309.3" cy="832.5" r="3.5" fill="#fff"/><circle cx="309.3" cy="832.5" r="1.6" fill="#ea5068"/><circle cx="311.7" cy="887.0" r="3.5" fill="#fff"/><circle cx="311.7" cy="887.0" r="1.6" fill="#ea5068"/><circle cx="314.4" cy="766.7" r="3.5" fill="#fff"/><circle cx="314.4" cy="766.7" r="1.6" fill="#ea5068"/><circle cx="316.5" cy="838.3" r="3.5" fill="#fff"/><circle cx="316.5" cy="838.3" r="1.6" fill="#ea5068"/><circle cx="329.7" cy="871.1" r="3.5" fill="#fff"/><circle cx="329.7" cy="871.1" r="1.6" fill="#ea5068"/><circle cx="355.3" cy="855.3" r="3.5" fill="#fff"/><circle cx="355.3" cy="855.3" r="1.6" fill="#ea5068"/><circle cx="358.0" cy="833.7" r="3.5" fill="#fff"/><circle cx="358.0" cy="833.7" r="1.6" fill="#ea5068"/><circle cx="362.2" cy="844.5" r="3.5" fill="#fff"/><circle cx="362.2" cy="844.5" r="1.6" fill="#ea5068"/><circle cx="396.3" cy="868.4" r="3.5" fill="#fff"/><circle cx="396.3" cy="868.4" r="1.6" fill="#ea5068"/><circle cx="421.6" cy="867.2" r="3.5" fill="#fff"/><circle cx="421.6" cy="867.2" r="1.6" fill="#ea5068"/><circle cx="429.4" cy="849.0" r="3.5" fill="#fff"/><circle cx="429.4" cy="849.0" r="1.6" fill="#ea5068"/><circle cx="436.9" cy="836.4" r="3.5" fill="#fff"/><circle cx="436.9" cy="836.4" r="1.6" fill="#ea5068"/><circle cx="439.5" cy="887.0" r="3.5" fill="#fff"/><circle cx="439.5" cy="887.0" r="1.6" fill="#ea5068"/><circle cx="442.4" cy="786.5" r="3.5" fill="#fff"/><circle cx="442.4" cy="786.5" r="1.6" fill="#ea5068"/><circle cx="444.3" cy="814.6" r="3.5" fill="#fff"/><circle cx="444.3" cy="814.6" r="1.6" fill="#ea5068"/><circle cx="452.2" cy="858.6" r="3.5" fill="#fff"/><circle cx="452.2" cy="858.6" r="1.6" fill="#ea5068"/><circle cx="454.8" cy="871.8" r="3.5" fill="#fff"/><circle cx="454.8" cy="871.8" r="1.6" fill="#ea5068"/><circle cx="470.4" cy="859.1" r="3.5" fill="#fff"/><circle cx="470.4" cy="859.1" r="1.6" fill="#ea5068"/><circle cx="474.9" cy="869.4" r="3.5" fill="#fff"/><circle cx="474.9" cy="869.4" r="1.6" fill="#ea5068"/><circle cx="482.9" cy="874.4" r="3.5" fill="#fff"/><circle cx="482.9" cy="874.4" r="1.6" fill="#ea5068"/><circle cx="493.3" cy="870.6" r="3.5" fill="#fff"/><circle cx="493.3" cy="870.6" r="1.6" fill="#ea5068"/><circle cx="495.7" cy="887.6" r="3.5" fill="#fff"/><circle cx="495.7" cy="887.6" r="1.6" fill="#ea5068"/><circle cx="498.4" cy="871.4" r="3.5" fill="#fff"/><circle cx="498.4" cy="871.4" r="1.6" fill="#ea5068"/><circle cx="506.1" cy="875.4" r="3.5" fill="#fff"/><circle cx="506.1" cy="875.4" r="1.6" fill="#ea5068"/><circle cx="518.7" cy="873.8" r="3.5" fill="#fff"/><circle cx="518.7" cy="873.8" r="1.6" fill="#ea5068"/><circle cx="531.3" cy="870.8" r="3.5" fill="#fff"/><circle cx="531.3" cy="870.8" r="1.6" fill="#ea5068"/><circle cx="534.3" cy="849.0" r="3.5" fill="#fff"/><circle cx="534.3" cy="849.0" r="1.6" fill="#ea5068"/><circle cx="536.9" cy="870.8" r="3.5" fill="#fff"/><circle cx="536.9" cy="870.8" r="1.6" fill="#ea5068"/><circle cx="557.2" cy="847.1" r="3.5" fill="#fff"/><circle cx="557.2" cy="847.1" r="1.6" fill="#ea5068"/><circle cx="561.8" cy="883.4" r="3.5" fill="#fff"/><circle cx="561.8" cy="883.4" r="1.6" fill="#ea5068"/><circle cx="564.8" cy="798.4" r="3.5" fill="#fff"/><circle cx="564.8" cy="798.4" r="1.6" fill="#ea5068"/><circle cx="567.5" cy="887.6" r="3.5" fill="#fff"/><circle cx="567.5" cy="887.6" r="1.6" fill="#ea5068"/><circle cx="569.9" cy="788.9" r="3.5" fill="#fff"/><circle cx="569.9" cy="788.9" r="1.6" fill="#ea5068"/><circle cx="572.5" cy="842.7" r="3.5" fill="#fff"/><circle cx="572.5" cy="842.7" r="1.6" fill="#ea5068"/><circle cx="597.6" cy="873.2" r="3.5" fill="#fff"/><circle cx="597.6" cy="873.2" r="1.6" fill="#ea5068"/><circle cx="602.9" cy="863.0" r="3.5" fill="#fff"/><circle cx="602.9" cy="863.0" r="1.6" fill="#ea5068"/><circle cx="605.3" cy="880.4" r="3.5" fill="#fff"/><circle cx="605.3" cy="880.4" r="1.6" fill="#ea5068"/><circle cx="607.7" cy="871.4" r="3.5" fill="#fff"/><circle cx="607.7" cy="871.4" r="1.6" fill="#ea5068"/><circle cx="623.3" cy="865.4" r="3.5" fill="#fff"/><circle cx="623.3" cy="865.4" r="1.6" fill="#ea5068"/><circle cx="639.1" cy="870.8" r="3.5" fill="#fff"/><circle cx="639.1" cy="870.8" r="1.6" fill="#ea5068"/><circle cx="643.6" cy="622.7" r="3.5" fill="#fff"/><circle cx="643.6" cy="622.7" r="1.6" fill="#ea5068"/><circle cx="672.1" cy="805.3" r="3.5" fill="#fff"/><circle cx="672.1" cy="805.3" r="1.6" fill="#ea5068"/><circle cx="682.4" cy="875.0" r="3.5" fill="#fff"/><circle cx="682.4" cy="875.0" r="1.6" fill="#ea5068"/><circle cx="684.8" cy="848.7" r="3.5" fill="#fff"/><circle cx="684.8" cy="848.7" r="1.6" fill="#ea5068"/><circle cx="692.6" cy="835.2" r="3.5" fill="#fff"/><circle cx="692.6" cy="835.2" r="1.6" fill="#ea5068"/><circle cx="697.3" cy="852.9" r="3.5" fill="#fff"/><circle cx="697.3" cy="852.9" r="1.6" fill="#ea5068"/><circle cx="700.1" cy="786.5" r="3.5" fill="#fff"/><circle cx="700.1" cy="786.5" r="1.6" fill="#ea5068"/><circle cx="702.1" cy="840.3" r="3.5" fill="#fff"/><circle cx="702.1" cy="840.3" r="1.6" fill="#ea5068"/><circle cx="715.9" cy="892.3" r="3.5" fill="#fff"/><circle cx="715.9" cy="892.3" r="1.6" fill="#ea5068"/><circle cx="718.3" cy="888.2" r="3.5" fill="#fff"/><circle cx="718.3" cy="888.2" r="1.6" fill="#ea5068"/><circle cx="727.8" cy="878.0" r="3.5" fill="#fff"/><circle cx="727.8" cy="878.0" r="1.6" fill="#ea5068"/><circle cx="730.8" cy="887.0" r="3.5" fill="#fff"/><circle cx="730.8" cy="887.0" r="1.6" fill="#ea5068"/><circle cx="733.8" cy="867.2" r="3.5" fill="#fff"/><circle cx="733.8" cy="867.2" r="1.6" fill="#ea5068"/><circle cx="735.6" cy="879.8" r="3.5" fill="#fff"/><circle cx="735.6" cy="879.8" r="1.6" fill="#ea5068"/><circle cx="748.7" cy="680.5" r="3.5" fill="#fff"/><circle cx="748.7" cy="680.5" r="1.6" fill="#ea5068"/><circle cx="756.2" cy="843.7" r="3.5" fill="#fff"/><circle cx="756.2" cy="843.7" r="1.6" fill="#ea5068"/><circle cx="761.5" cy="870.5" r="3.5" fill="#fff"/><circle cx="761.5" cy="870.5" r="1.6" fill="#ea5068"/><circle cx="779.5" cy="886.4" r="3.5" fill="#fff"/><circle cx="779.5" cy="886.4" r="1.6" fill="#ea5068"/><circle cx="784.6" cy="873.2" r="3.5" fill="#fff"/><circle cx="784.6" cy="873.2" r="1.6" fill="#ea5068"/><circle cx="789.7" cy="865.1" r="3.5" fill="#fff"/><circle cx="789.7" cy="865.1" r="1.6" fill="#ea5068"/><circle cx="792.3" cy="887.0" r="3.5" fill="#fff"/><circle cx="792.3" cy="887.0" r="1.6" fill="#ea5068"/><circle cx="797.2" cy="701.9" r="3.5" fill="#fff"/><circle cx="797.2" cy="701.9" r="1.6" fill="#ea5068"/><circle cx="815.4" cy="848.1" r="3.5" fill="#fff"/><circle cx="815.4" cy="848.1" r="1.6" fill="#ea5068"/><circle cx="822.8" cy="840.3" r="3.5" fill="#fff"/><circle cx="822.8" cy="840.3" r="1.6" fill="#ea5068"/><circle cx="828.2" cy="780.5" r="3.5" fill="#fff"/><circle cx="828.2" cy="780.5" r="1.6" fill="#ea5068"/><circle cx="830.3" cy="845.1" r="3.5" fill="#fff"/><circle cx="830.3" cy="845.1" r="1.6" fill="#ea5068"/><circle cx="833.0" cy="872.0" r="3.5" fill="#fff"/><circle cx="833.0" cy="872.0" r="1.6" fill="#ea5068"/><circle cx="835.4" cy="865.8" r="3.5" fill="#fff"/><circle cx="835.4" cy="865.8" r="1.6" fill="#ea5068"/><circle cx="868.7" cy="887.3" r="3.5" fill="#fff"/><circle cx="868.7" cy="887.3" r="1.6" fill="#ea5068"/><circle cx="875.0" cy="863.6" r="3.5" fill="#fff"/><circle cx="875.0" cy="863.6" r="1.6" fill="#ea5068"/><circle cx="876.6" cy="848.7" r="3.5" fill="#fff"/><circle cx="876.6" cy="848.7" r="1.6" fill="#ea5068"/><circle cx="891.8" cy="850.2" r="3.5" fill="#fff"/><circle cx="891.8" cy="850.2" r="1.6" fill="#ea5068"/><circle cx="895.1" cy="875.6" r="3.5" fill="#fff"/><circle cx="895.1" cy="875.6" r="1.6" fill="#ea5068"/><circle cx="897.3" cy="835.5" r="3.5" fill="#fff"/><circle cx="897.3" cy="835.5" r="1.6" fill="#ea5068"/><circle cx="901.7" cy="855.5" r="3.5" fill="#fff"/><circle cx="901.7" cy="855.5" r="1.6" fill="#ea5068"/><circle cx="904.7" cy="891.1" r="3.5" fill="#fff"/><circle cx="904.7" cy="891.1" r="1.6" fill="#ea5068"/><circle cx="912.5" cy="815.2" r="3.5" fill="#fff"/><circle cx="912.5" cy="815.2" r="1.6" fill="#ea5068"/><circle cx="917.2" cy="861.0" r="3.5" fill="#fff"/><circle cx="917.2" cy="861.0" r="1.6" fill="#ea5068"/><circle cx="932.7" cy="822.1" r="3.5" fill="#fff"/><circle cx="932.7" cy="822.1" r="1.6" fill="#ea5068"/><circle cx="935.0" cy="837.4" r="3.5" fill="#fff"/><circle cx="935.0" cy="837.4" r="1.6" fill="#ea5068"/><circle cx="940.3" cy="886.6" r="3.5" fill="#fff"/><circle cx="940.3" cy="886.6" r="1.6" fill="#ea5068"/><circle cx="943.0" cy="846.5" r="3.5" fill="#fff"/><circle cx="943.0" cy="846.5" r="1.6" fill="#ea5068"/><circle cx="950.6" cy="836.4" r="3.5" fill="#fff"/><circle cx="950.6" cy="836.4" r="1.6" fill="#ea5068"/><circle cx="953.3" cy="886.6" r="3.5" fill="#fff"/><circle cx="953.3" cy="886.6" r="1.6" fill="#ea5068"/><circle cx="955.6" cy="800.6" r="3.5" fill="#fff"/><circle cx="955.6" cy="800.6" r="1.6" fill="#ea5068"/><circle cx="958.3" cy="844.6" r="3.5" fill="#fff"/><circle cx="958.3" cy="844.6" r="1.6" fill="#ea5068"/><circle cx="960.9" cy="826.4" r="3.5" fill="#fff"/><circle cx="960.9" cy="826.4" r="1.6" fill="#ea5068"/><circle cx="963.3" cy="887.1" r="3.5" fill="#fff"/><circle cx="963.3" cy="887.1" r="1.6" fill="#ea5068"/><circle cx="965.9" cy="840.2" r="3.5" fill="#fff"/><circle cx="965.9" cy="840.2" r="1.6" fill="#ea5068"/><circle cx="974.0" cy="814.8" r="3.5" fill="#fff"/><circle cx="974.0" cy="814.8" r="1.6" fill="#ea5068"/><circle cx="978.2" cy="867.2" r="3.5" fill="#fff"/><circle cx="978.2" cy="867.2" r="1.6" fill="#ea5068"/><circle cx="980.6" cy="875.0" r="3.5" fill="#fff"/><circle cx="980.6" cy="875.0" r="1.6" fill="#ea5068"/><circle cx="989.5" cy="887.0" r="3.5" fill="#fff"/><circle cx="989.5" cy="887.0" r="1.6" fill="#ea5068"/><circle cx="991.9" cy="861.2" r="3.5" fill="#fff"/><circle cx="991.9" cy="861.2" r="1.6" fill="#ea5068"/><circle cx="1002.1" cy="834.3" r="3.5" fill="#fff"/><circle cx="1002.1" cy="834.3" r="1.6" fill="#ea5068"/><circle cx="1004.5" cy="765.3" r="3.5" fill="#fff"/><circle cx="1004.5" cy="765.3" r="1.6" fill="#ea5068"/><circle cx="1024.8" cy="863.9" r="3.5" fill="#fff"/><circle cx="1024.8" cy="863.9" r="1.6" fill="#ea5068"/><circle cx="1027.2" cy="887.6" r="3.5" fill="#fff"/><circle cx="1027.2" cy="887.6" r="1.6" fill="#ea5068"/><circle cx="1037.5" cy="703.2" r="3.5" fill="#fff"/><circle cx="1037.5" cy="703.2" r="1.6" fill="#ea5068"/><circle cx="1044.9" cy="869.4" r="3.5" fill="#fff"/><circle cx="1044.9" cy="869.4" r="1.6" fill="#ea5068"/><circle cx="1047.5" cy="886.4" r="3.5" fill="#fff"/><circle cx="1047.5" cy="886.4" r="1.6" fill="#ea5068"/><circle cx="1063.7" cy="869.6" r="3.5" fill="#fff"/><circle cx="1063.7" cy="869.6" r="1.6" fill="#ea5068"/><circle cx="1063.0" cy="887.0" r="3.5" fill="#fff"/><circle cx="1063.0" cy="887.0" r="1.6" fill="#ea5068"/><circle cx="1065.4" cy="869.6" r="3.5" fill="#fff"/><circle cx="1065.4" cy="869.6" r="1.6" fill="#ea5068"/><circle cx="1067.8" cy="891.7" r="3.5" fill="#fff"/><circle cx="1067.8" cy="891.7" r="1.6" fill="#ea5068"/><circle cx="1070.8" cy="844.5" r="3.5" fill="#fff"/><circle cx="1070.8" cy="844.5" r="1.6" fill="#ea5068"/><circle cx="1073.2" cy="882.8" r="3.5" fill="#fff"/><circle cx="1073.2" cy="882.8" r="1.6" fill="#ea5068"/><circle cx="1075.6" cy="872.0" r="3.5" fill="#fff"/><circle cx="1075.6" cy="872.0" r="1.6" fill="#ea5068"/><circle cx="1078.2" cy="837.9" r="3.5" fill="#fff"/><circle cx="1078.2" cy="837.9" r="1.6" fill="#ea5068"/><circle cx="1080.9" cy="886.4" r="3.5" fill="#fff"/><circle cx="1080.9" cy="886.4" r="1.6" fill="#ea5068"/><circle cx="1083.3" cy="751.6" r="3.5" fill="#fff"/><circle cx="1083.3" cy="751.6" r="1.6" fill="#ea5068"/><circle cx="1088.1" cy="843.3" r="3.5" fill="#fff"/><circle cx="1088.1" cy="843.3" r="1.6" fill="#ea5068"/><circle cx="1104.0" cy="817.0" r="3.5" fill="#fff"/><circle cx="1104.0" cy="817.0" r="1.6" fill="#ea5068"/><circle cx="1117.2" cy="876.8" r="3.5" fill="#fff"/><circle cx="1117.2" cy="876.8" r="1.6" fill="#ea5068"/><circle cx="1131.8" cy="867.2" r="3.5" fill="#fff"/><circle cx="1131.8" cy="867.2" r="1.6" fill="#ea5068"/><circle cx="1152.7" cy="739.7" r="3.5" fill="#fff"/><circle cx="1152.7" cy="739.7" r="1.6" fill="#ea5068"/><circle cx="1162.8" cy="873.8" r="3.5" fill="#fff"/><circle cx="1162.8" cy="873.8" r="1.6" fill="#ea5068"/><circle cx="1165.2" cy="855.3" r="3.5" fill="#fff"/><circle cx="1165.2" cy="855.3" r="1.6" fill="#ea5068"/><circle cx="1183.5" cy="749.6" r="3.5" fill="#fff"/><circle cx="1183.5" cy="749.6" r="1.6" fill="#ea5068"/><circle cx="1201.1" cy="853.1" r="3.5" fill="#fff"/><circle cx="1201.1" cy="853.1" r="1.6" fill="#ea5068"/><circle cx="1209.4" cy="836.4" r="3.5" fill="#fff"/><circle cx="1209.4" cy="836.4" r="1.6" fill="#ea5068"/><circle cx="1213.6" cy="774.5" r="3.5" fill="#fff"/><circle cx="1213.6" cy="774.5" r="1.6" fill="#ea5068"/><circle cx="1216.0" cy="824.8" r="3.5" fill="#fff"/><circle cx="1216.0" cy="824.8" r="1.6" fill="#ea5068"/><circle cx="1219.0" cy="854.1" r="3.5" fill="#fff"/><circle cx="1219.0" cy="854.1" r="1.6" fill="#ea5068"/><circle cx="1229.4" cy="864.2" r="3.5" fill="#fff"/><circle cx="1229.4" cy="864.2" r="1.6" fill="#ea5068"/><circle cx="1231.6" cy="624.3" r="3.5" fill="#fff"/><circle cx="1231.6" cy="624.3" r="1.6" fill="#ea5068"/><circle cx="1242.1" cy="819.4" r="3.5" fill="#fff"/><circle cx="1242.1" cy="819.4" r="1.6" fill="#ea5068"/><circle cx="1246.5" cy="871.4" r="3.5" fill="#fff"/><circle cx="1246.5" cy="871.4" r="1.6" fill="#ea5068"/><circle cx="1252.1" cy="871.4" r="3.5" fill="#fff"/><circle cx="1252.1" cy="871.4" r="1.6" fill="#ea5068"/><circle cx="1255.0" cy="881.6" r="3.5" fill="#fff"/><circle cx="1255.0" cy="881.6" r="1.6" fill="#ea5068"/><circle cx="1258.5" cy="886.4" r="3.5" fill="#fff"/><circle cx="1258.5" cy="886.4" r="1.6" fill="#ea5068"/><circle cx="1265.0" cy="887.6" r="3.5" fill="#fff"/><circle cx="1265.0" cy="887.6" r="1.6" fill="#ea5068"/><circle cx="1272.7" cy="884.6" r="3.5" fill="#fff"/><circle cx="1272.7" cy="884.6" r="1.6" fill="#ea5068"/><circle cx="1275.1" cy="891.1" r="3.5" fill="#fff"/><circle cx="1275.1" cy="891.1" r="1.6" fill="#ea5068"/><circle cx="1293.1" cy="869.6" r="3.5" fill="#fff"/><circle cx="1293.1" cy="869.6" r="1.6" fill="#ea5068"/><circle cx="1297.8" cy="887.3" r="3.5" fill="#fff"/><circle cx="1297.8" cy="887.3" r="1.6" fill="#ea5068"/><circle cx="1308.4" cy="876.8" r="3.5" fill="#fff"/><circle cx="1308.4" cy="876.8" r="1.6" fill="#ea5068"/><circle cx="1326.6" cy="883.4" r="3.5" fill="#fff"/><circle cx="1326.6" cy="883.4" r="1.6" fill="#ea5068"/><circle cx="1328.9" cy="848.1" r="3.5" fill="#fff"/><circle cx="1328.9" cy="848.1" r="1.6" fill="#ea5068"/><circle cx="1336.7" cy="758.1" r="3.5" fill="#fff"/><circle cx="1336.7" cy="758.1" r="1.6" fill="#ea5068"/><circle cx="1339.2" cy="469.3" r="3.5" fill="#fff"/><circle cx="1339.2" cy="469.3" r="1.6" fill="#ea5068"/><circle cx="1341.5" cy="773.3" r="3.5" fill="#fff"/><circle cx="1341.5" cy="773.3" r="1.6" fill="#ea5068"/><circle cx="1344.5" cy="860.0" r="3.5" fill="#fff"/><circle cx="1344.5" cy="860.0" r="1.6" fill="#ea5068"/><circle cx="1345.6" cy="860.0" r="3.5" fill="#fff"/><circle cx="1345.6" cy="860.0" r="1.6" fill="#ea5068"/><circle cx="1349.2" cy="874.4" r="3.5" fill="#fff"/><circle cx="1349.2" cy="874.4" r="1.6" fill="#ea5068"/><circle cx="1362.3" cy="887.6" r="3.5" fill="#fff"/><circle cx="1362.3" cy="887.6" r="1.6" fill="#ea5068"/><circle cx="1372.3" cy="872.0" r="3.5" fill="#fff"/><circle cx="1372.3" cy="872.0" r="1.6" fill="#ea5068"/><circle cx="1385.0" cy="694.3" r="3.5" fill="#fff"/><circle cx="1385.0" cy="694.3" r="1.6" fill="#ea5068"/><circle cx="1387.1" cy="823.0" r="3.5" fill="#fff"/><circle cx="1387.1" cy="823.0" r="1.6" fill="#ea5068"/><circle cx="1395.2" cy="870.8" r="3.5" fill="#fff"/><circle cx="1395.2" cy="870.8" r="1.6" fill="#ea5068"/><circle cx="1403.4" cy="508.9" r="3.5" fill="#fff"/><circle cx="1403.4" cy="508.9" r="1.6" fill="#ea5068"/><circle cx="1405.6" cy="482.1" r="3.5" fill="#fff"/><circle cx="1405.6" cy="482.1" r="1.6" fill="#ea5068"/><circle cx="1410.2" cy="806.2" r="3.5" fill="#fff"/><circle cx="1410.2" cy="806.2" r="1.6" fill="#ea5068"/><circle cx="1413.2" cy="872.0" r="3.5" fill="#fff"/><circle cx="1413.2" cy="872.0" r="1.6" fill="#ea5068"/><circle cx="1421.9" cy="691.7" r="3.5" fill="#fff"/><circle cx="1421.9" cy="691.7" r="1.6" fill="#ea5068"/><circle cx="1433.5" cy="883.4" r="3.5" fill="#fff"/><circle cx="1433.5" cy="883.4" r="1.6" fill="#ea5068"/><circle cx="1438.3" cy="891.1" r="3.5" fill="#fff"/><circle cx="1438.3" cy="891.1" r="1.6" fill="#ea5068"/><circle cx="1457.4" cy="832.5" r="3.5" fill="#fff"/><circle cx="1457.4" cy="832.5" r="1.6" fill="#ea5068"/></svg>
</div></body></html>
